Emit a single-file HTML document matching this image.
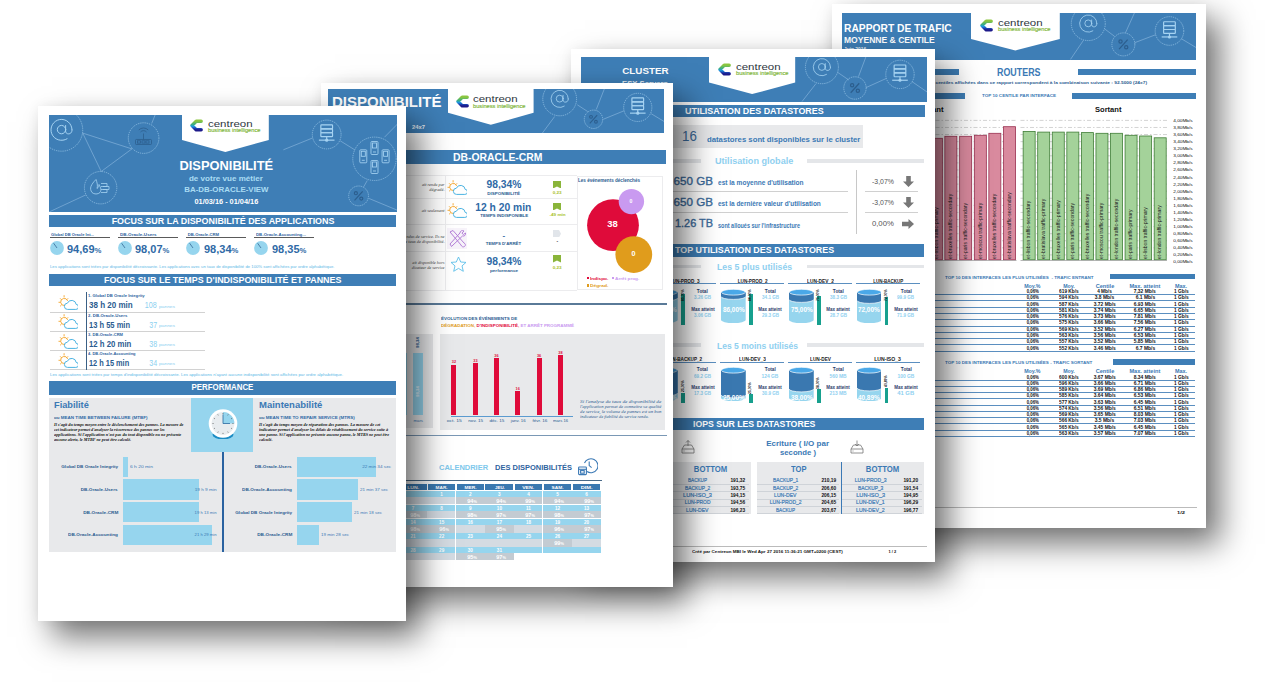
<!DOCTYPE html><html><head><meta charset="utf-8"><style>
html,body{margin:0;padding:0;background:#fff;width:1278px;height:687px;overflow:hidden;position:relative}
.pg{position:absolute;background:#fff;overflow:hidden;box-shadow:14px 16px 30px rgba(0,0,0,0.55),0 0 12px rgba(0,0,0,0.05)}
.pg div{position:absolute;box-sizing:border-box}
</style></head><body>
<div class="pg" style="left:832px;top:4px;width:374px;height:524px;z-index:6">
<div style="left:9.5px;top:9.2px;width:354.2px;height:46.4px;background:#3e7eb6"></div>
<svg style="position:absolute;left:9.5px;top:9.2px;overflow:hidden;" width="354.2" height="46.4" viewBox="841.5 13.2 354.2 46.4"><circle cx="1087.8" cy="23.8" r="17" fill="none" stroke="#9cc8ea" stroke-width="0.7" stroke-dasharray="1.3 0.9"/><g fill="none" stroke="#a6d3f2" stroke-width="0.82" stroke-linecap="round"><path d="M1096.4,23.8 A8.6,8.6 0 1,0 1092.36,31.09"/><circle cx="1087.8" cy="23.55" r="3.44"/><path d="M1091.16,20.2 V24.78 C1091.16,27.24 1093.94,27.57 1095.34,26.42 C1096.15,25.68 1096.4,24.62 1096.4,23.8"/></g><line x1="1083" y1="40.5" x2="1070" y2="59.6" stroke="#8fbbe0" stroke-width="0.6"/><line x1="1104" y1="29" x2="1114" y2="36.5" stroke="#8fbbe0" stroke-width="0.6"/><line x1="1134" y1="13" x2="1125" y2="33" stroke="#8fbbe0" stroke-width="0.6"/><circle cx="1122.9" cy="44.6" r="11.5" fill="none" stroke="#9cc8ea" stroke-width="0.7" stroke-dasharray="1.3 0.9"/><g fill="none" stroke="#2c5e8e" stroke-width="1.24"><circle cx="1120.05" cy="41.75" r="1.62"/><circle cx="1125.75" cy="47.45" r="1.62"/><line x1="1127.18" y1="39.85" x2="1118.62" y2="49.35"/></g><line x1="1134" y1="43" x2="1155" y2="35" stroke="#8fbbe0" stroke-width="0.6"/><circle cx="1169" cy="31.2" r="14.3" fill="none" stroke="#9cc8ea" stroke-width="0.7" stroke-dasharray="1.3 0.9"/><g fill="none" stroke="#a6d3f2" stroke-width="1.17"><rect x="1163.15" y="21.94" width="11.7" height="3.9" rx="0.65"/><rect x="1163.15" y="25.84" width="11.7" height="3.9" rx="0.65"/><rect x="1163.15" y="29.74" width="11.7" height="3.9" rx="0.65"/><line x1="1169" y1="33.64" x2="1169" y2="36.5"/><line x1="1161.2" y1="37.15" x2="1176.8" y2="37.15"/></g><circle cx="1169" cy="37.15" r="1.56" fill="#a6d3f2"/><line x1="1181" y1="39" x2="1196" y2="48" stroke="#8fbbe0" stroke-width="0.6"/></svg>
<div style="left:12.1px;top:17.76px;font:bold 10.8px/12.96px 'Liberation Sans', sans-serif;color:#fff;white-space:nowrap;transform:scaleX(0.95);transform-origin:0 50%;">RAPPORT DE TRAFIC</div>
<div style="left:12.1px;top:31.28px;font:bold 9px/10.8px 'Liberation Sans', sans-serif;color:#fff;white-space:nowrap;transform:scaleX(0.95);transform-origin:0 50%;">MOYENNE &amp; CENTILE</div>
<div style="left:12.1px;top:42.67px;font:bold 4.8px/5.76px 'Liberation Sans', sans-serif;color:#e8f0f7;white-space:nowrap;transform:scaleX(1.01);transform-origin:0 50%;">Juin 2016</div>
<svg style="position:absolute;left:138.1px;top:8.5px;overflow:hidden;" width="90.8" height="38.5" viewBox="970.1 12.5 90.8 38.5"><polygon points="971.1,12.5 1059.9,12.5 1059.9,38.4 1015.5,50 971.1,38.4" fill="#fff"/></svg>
<svg style="position:absolute;left:148px;top:14.5px;" width="13" height="13" viewBox="0 0 13 12.6"><defs><linearGradient id="lg4_6" x1="0" y1="0" x2="0" y2="1"><stop offset="0" stop-color="#8cc63f"/><stop offset="0.35" stop-color="#3fb07a"/><stop offset="0.6" stop-color="#1e9be0"/><stop offset="0.85" stop-color="#1c3fb0"/><stop offset="1" stop-color="#1d1a8a"/></linearGradient></defs><path d="M11.2,2 L6.2,2 L2,6.3 L6.2,10.6 L11.2,10.6" fill="none" stroke="url(#lg4_6)" stroke-width="3.4" stroke-linejoin="round" stroke-linecap="round"/></svg>
<div style="left:165.5px;top:13.29px;font:normal 9.8px/11.76px 'Liberation Sans', sans-serif;color:#2d3540;white-space:nowrap;transform:scaleX(1.17);transform-origin:0 50%;">centreon</div>
<div style="left:165.5px;top:22.33px;font:normal 5.8px/6.96px 'Liberation Sans', sans-serif;color:#7db536;white-space:nowrap;transform:scaleX(0.98);transform-origin:0 50%;-webkit-text-stroke:0.15px #7db536">business intelligence</div>
<div style="left:9.5px;top:64.5px;width:117.5px;height:6.3px;background:#3e7eb6"></div>
<div style="left:245.9px;top:64.5px;width:117.9px;height:6.3px;background:#3e7eb6"></div>
<div style="left:165.2px;top:62.74px;font:bold 10px/12px 'Liberation Sans', sans-serif;color:#3b79b5;white-space:nowrap;transform:scaleX(0.89);transform-origin:0 50%;">ROUTERS</div>
<div style="right:58.8px;top:76.06px;font:bold 4.4px/5.28px 'Liberation Sans', sans-serif;color:#2b5c90;white-space:nowrap;transform:scaleX(1.1);transform-origin:100% 50%;">Les valeurs de centiles affich&eacute;es dans ce rapport correspondent &agrave; la combinaison suivante : 92.5000 (24x7)</div>
<div style="left:9.5px;top:88.7px;width:123.4px;height:6.4px;background:#3e7eb6"></div>
<div style="left:240px;top:88.7px;width:123.8px;height:6.4px;background:#3e7eb6"></div>
<div style="left:149.8px;top:89.36px;font:bold 4.4px/5.28px 'Liberation Sans', sans-serif;color:#3b79b5;white-space:nowrap;transform:scaleX(1.04);transform-origin:0 50%;">TOP 10 CENTILE PAR INTERFACE</div>
<div style="right:262.9px;top:101.55px;font:bold 7px/8.4px 'Liberation Sans', sans-serif;color:#111;white-space:nowrap;transform:scaleX(1.1);transform-origin:100% 50%;">Entrant</div>
<div style="left:262.8px;top:101.55px;font:bold 7px/8.4px 'Liberation Sans', sans-serif;color:#111;white-space:nowrap;transform:scaleX(1.08);transform-origin:0 50%;">Sortant</div>
<div style="right:13px;top:113.89px;font:normal 4.3px/5.16px 'Liberation Sans', sans-serif;color:#111;white-space:nowrap;transform:scaleX(1.1);transform-origin:100% 50%;">4,00Mb/s</div>
<div style="right:13px;top:120.97px;font:normal 4.3px/5.16px 'Liberation Sans', sans-serif;color:#111;white-space:nowrap;transform:scaleX(1.1);transform-origin:100% 50%;">3,80Mb/s</div>
<div style="right:13px;top:128.05px;font:normal 4.3px/5.16px 'Liberation Sans', sans-serif;color:#111;white-space:nowrap;transform:scaleX(1.1);transform-origin:100% 50%;">3,60Mb/s</div>
<div style="right:13px;top:135.13px;font:normal 4.3px/5.16px 'Liberation Sans', sans-serif;color:#111;white-space:nowrap;transform:scaleX(1.1);transform-origin:100% 50%;">3,40Mb/s</div>
<div style="right:13px;top:142.21px;font:normal 4.3px/5.16px 'Liberation Sans', sans-serif;color:#111;white-space:nowrap;transform:scaleX(1.1);transform-origin:100% 50%;">3,20Mb/s</div>
<div style="right:13px;top:149.29px;font:normal 4.3px/5.16px 'Liberation Sans', sans-serif;color:#111;white-space:nowrap;transform:scaleX(1.1);transform-origin:100% 50%;">3,00Mb/s</div>
<div style="right:13px;top:156.37px;font:normal 4.3px/5.16px 'Liberation Sans', sans-serif;color:#111;white-space:nowrap;transform:scaleX(1.1);transform-origin:100% 50%;">2,80Mb/s</div>
<div style="right:13px;top:163.45px;font:normal 4.3px/5.16px 'Liberation Sans', sans-serif;color:#111;white-space:nowrap;transform:scaleX(1.1);transform-origin:100% 50%;">2,60Mb/s</div>
<div style="right:13px;top:170.53px;font:normal 4.3px/5.16px 'Liberation Sans', sans-serif;color:#111;white-space:nowrap;transform:scaleX(1.1);transform-origin:100% 50%;">2,40Mb/s</div>
<div style="right:13px;top:177.61px;font:normal 4.3px/5.16px 'Liberation Sans', sans-serif;color:#111;white-space:nowrap;transform:scaleX(1.1);transform-origin:100% 50%;">2,20Mb/s</div>
<div style="right:13px;top:184.69px;font:normal 4.3px/5.16px 'Liberation Sans', sans-serif;color:#111;white-space:nowrap;transform:scaleX(1.1);transform-origin:100% 50%;">2,00Mb/s</div>
<div style="right:13px;top:191.77px;font:normal 4.3px/5.16px 'Liberation Sans', sans-serif;color:#111;white-space:nowrap;transform:scaleX(1.1);transform-origin:100% 50%;">1,80Mb/s</div>
<div style="right:13px;top:198.85px;font:normal 4.3px/5.16px 'Liberation Sans', sans-serif;color:#111;white-space:nowrap;transform:scaleX(1.1);transform-origin:100% 50%;">1,60Mb/s</div>
<div style="right:13px;top:205.93px;font:normal 4.3px/5.16px 'Liberation Sans', sans-serif;color:#111;white-space:nowrap;transform:scaleX(1.1);transform-origin:100% 50%;">1,40Mb/s</div>
<div style="right:13px;top:213.01px;font:normal 4.3px/5.16px 'Liberation Sans', sans-serif;color:#111;white-space:nowrap;transform:scaleX(1.1);transform-origin:100% 50%;">1,20Mb/s</div>
<div style="right:13px;top:220.09px;font:normal 4.3px/5.16px 'Liberation Sans', sans-serif;color:#111;white-space:nowrap;transform:scaleX(1.1);transform-origin:100% 50%;">1,00Mb/s</div>
<div style="right:13px;top:227.17px;font:normal 4.3px/5.16px 'Liberation Sans', sans-serif;color:#111;white-space:nowrap;transform:scaleX(1.1);transform-origin:100% 50%;">0,80Mb/s</div>
<div style="right:13px;top:234.25px;font:normal 4.3px/5.16px 'Liberation Sans', sans-serif;color:#111;white-space:nowrap;transform:scaleX(1.1);transform-origin:100% 50%;">0,60Mb/s</div>
<div style="right:13px;top:241.33px;font:normal 4.3px/5.16px 'Liberation Sans', sans-serif;color:#111;white-space:nowrap;transform:scaleX(1.1);transform-origin:100% 50%;">0,40Mb/s</div>
<div style="right:13px;top:248.41px;font:normal 4.3px/5.16px 'Liberation Sans', sans-serif;color:#111;white-space:nowrap;transform:scaleX(1.1);transform-origin:100% 50%;">0,20Mb/s</div>
<div style="right:13px;top:255.49px;font:normal 4.3px/5.16px 'Liberation Sans', sans-serif;color:#111;white-space:nowrap;transform:scaleX(1.1);transform-origin:100% 50%;">0,00Mb/s</div>
<svg style="position:absolute;left:10px;top:111px;overflow:hidden;" width="328" height="151" viewBox="842 115 328 151"><line x1="850" y1="120.4" x2="1016.5" y2="120.4" stroke="#b5b5b5" stroke-width="0.6" stroke-dasharray="4 2 1.5 2"/><line x1="1020.5" y1="120.4" x2="1167" y2="120.4" stroke="#b5b5b5" stroke-width="0.6" stroke-dasharray="4 2 1.5 2"/><line x1="850" y1="127.48" x2="1016.5" y2="127.48" stroke="#b5b5b5" stroke-width="0.6" stroke-dasharray="4 2 1.5 2"/><line x1="1020.5" y1="127.48" x2="1167" y2="127.48" stroke="#b5b5b5" stroke-width="0.6" stroke-dasharray="4 2 1.5 2"/><line x1="850" y1="134.56" x2="1016.5" y2="134.56" stroke="#b5b5b5" stroke-width="0.6" stroke-dasharray="4 2 1.5 2"/><line x1="1020.5" y1="134.56" x2="1167" y2="134.56" stroke="#b5b5b5" stroke-width="0.6" stroke-dasharray="4 2 1.5 2"/><line x1="850" y1="141.64" x2="1016.5" y2="141.64" stroke="#b5b5b5" stroke-width="0.6" stroke-dasharray="4 2 1.5 2"/><line x1="1020.5" y1="141.64" x2="1167" y2="141.64" stroke="#b5b5b5" stroke-width="0.6" stroke-dasharray="4 2 1.5 2"/><line x1="850" y1="148.72" x2="1016.5" y2="148.72" stroke="#b5b5b5" stroke-width="0.6" stroke-dasharray="4 2 1.5 2"/><line x1="1020.5" y1="148.72" x2="1167" y2="148.72" stroke="#b5b5b5" stroke-width="0.6" stroke-dasharray="4 2 1.5 2"/><line x1="850" y1="155.8" x2="1016.5" y2="155.8" stroke="#b5b5b5" stroke-width="0.6" stroke-dasharray="4 2 1.5 2"/><line x1="1020.5" y1="155.8" x2="1167" y2="155.8" stroke="#b5b5b5" stroke-width="0.6" stroke-dasharray="4 2 1.5 2"/><line x1="850" y1="162.88" x2="1016.5" y2="162.88" stroke="#b5b5b5" stroke-width="0.6" stroke-dasharray="4 2 1.5 2"/><line x1="1020.5" y1="162.88" x2="1167" y2="162.88" stroke="#b5b5b5" stroke-width="0.6" stroke-dasharray="4 2 1.5 2"/><line x1="850" y1="169.96" x2="1016.5" y2="169.96" stroke="#b5b5b5" stroke-width="0.6" stroke-dasharray="4 2 1.5 2"/><line x1="1020.5" y1="169.96" x2="1167" y2="169.96" stroke="#b5b5b5" stroke-width="0.6" stroke-dasharray="4 2 1.5 2"/><line x1="850" y1="177.04" x2="1016.5" y2="177.04" stroke="#b5b5b5" stroke-width="0.6" stroke-dasharray="4 2 1.5 2"/><line x1="1020.5" y1="177.04" x2="1167" y2="177.04" stroke="#b5b5b5" stroke-width="0.6" stroke-dasharray="4 2 1.5 2"/><line x1="850" y1="184.12" x2="1016.5" y2="184.12" stroke="#b5b5b5" stroke-width="0.6" stroke-dasharray="4 2 1.5 2"/><line x1="1020.5" y1="184.12" x2="1167" y2="184.12" stroke="#b5b5b5" stroke-width="0.6" stroke-dasharray="4 2 1.5 2"/><line x1="850" y1="191.2" x2="1016.5" y2="191.2" stroke="#b5b5b5" stroke-width="0.6" stroke-dasharray="4 2 1.5 2"/><line x1="1020.5" y1="191.2" x2="1167" y2="191.2" stroke="#b5b5b5" stroke-width="0.6" stroke-dasharray="4 2 1.5 2"/><line x1="850" y1="198.28" x2="1016.5" y2="198.28" stroke="#b5b5b5" stroke-width="0.6" stroke-dasharray="4 2 1.5 2"/><line x1="1020.5" y1="198.28" x2="1167" y2="198.28" stroke="#b5b5b5" stroke-width="0.6" stroke-dasharray="4 2 1.5 2"/><line x1="850" y1="205.36" x2="1016.5" y2="205.36" stroke="#b5b5b5" stroke-width="0.6" stroke-dasharray="4 2 1.5 2"/><line x1="1020.5" y1="205.36" x2="1167" y2="205.36" stroke="#b5b5b5" stroke-width="0.6" stroke-dasharray="4 2 1.5 2"/><line x1="850" y1="212.44" x2="1016.5" y2="212.44" stroke="#b5b5b5" stroke-width="0.6" stroke-dasharray="4 2 1.5 2"/><line x1="1020.5" y1="212.44" x2="1167" y2="212.44" stroke="#b5b5b5" stroke-width="0.6" stroke-dasharray="4 2 1.5 2"/><line x1="850" y1="219.52" x2="1016.5" y2="219.52" stroke="#b5b5b5" stroke-width="0.6" stroke-dasharray="4 2 1.5 2"/><line x1="1020.5" y1="219.52" x2="1167" y2="219.52" stroke="#b5b5b5" stroke-width="0.6" stroke-dasharray="4 2 1.5 2"/><line x1="850" y1="226.6" x2="1016.5" y2="226.6" stroke="#b5b5b5" stroke-width="0.6" stroke-dasharray="4 2 1.5 2"/><line x1="1020.5" y1="226.6" x2="1167" y2="226.6" stroke="#b5b5b5" stroke-width="0.6" stroke-dasharray="4 2 1.5 2"/><line x1="850" y1="233.68" x2="1016.5" y2="233.68" stroke="#b5b5b5" stroke-width="0.6" stroke-dasharray="4 2 1.5 2"/><line x1="1020.5" y1="233.68" x2="1167" y2="233.68" stroke="#b5b5b5" stroke-width="0.6" stroke-dasharray="4 2 1.5 2"/><line x1="850" y1="240.76" x2="1016.5" y2="240.76" stroke="#b5b5b5" stroke-width="0.6" stroke-dasharray="4 2 1.5 2"/><line x1="1020.5" y1="240.76" x2="1167" y2="240.76" stroke="#b5b5b5" stroke-width="0.6" stroke-dasharray="4 2 1.5 2"/><line x1="850" y1="247.84" x2="1016.5" y2="247.84" stroke="#b5b5b5" stroke-width="0.6" stroke-dasharray="4 2 1.5 2"/><line x1="1020.5" y1="247.84" x2="1167" y2="247.84" stroke="#b5b5b5" stroke-width="0.6" stroke-dasharray="4 2 1.5 2"/><line x1="850" y1="254.92" x2="1016.5" y2="254.92" stroke="#b5b5b5" stroke-width="0.6" stroke-dasharray="4 2 1.5 2"/><line x1="1020.5" y1="254.92" x2="1167" y2="254.92" stroke="#b5b5b5" stroke-width="0.6" stroke-dasharray="4 2 1.5 2"/><rect x="915.85" y="140" width="12" height="119.8" fill="#d98a9e" stroke="#9a3050" stroke-width="0.8"/><rect x="930.35" y="138.3" width="12" height="121.5" fill="#d98a9e" stroke="#9a3050" stroke-width="0.8"/><rect x="944.85" y="136.3" width="12" height="123.5" fill="#d98a9e" stroke="#9a3050" stroke-width="0.8"/><rect x="959.65" y="136.3" width="12" height="123.5" fill="#d98a9e" stroke="#9a3050" stroke-width="0.8"/><rect x="974.35" y="135.3" width="12" height="124.5" fill="#d98a9e" stroke="#9a3050" stroke-width="0.8"/><rect x="988.85" y="133.3" width="12" height="126.5" fill="#d98a9e" stroke="#9a3050" stroke-width="0.8"/><rect x="1003.55" y="126.7" width="12" height="133.1" fill="#d98a9e" stroke="#9a3050" stroke-width="0.8"/><rect x="1023.15" y="131.4" width="12" height="128.4" fill="#a4d29a" stroke="#3f7d36" stroke-width="0.8"/><rect x="1037.71" y="132.1" width="12" height="127.7" fill="#a4d29a" stroke="#3f7d36" stroke-width="0.8"/><rect x="1052.27" y="132.1" width="12" height="127.7" fill="#a4d29a" stroke="#3f7d36" stroke-width="0.8"/><rect x="1066.83" y="132.1" width="12" height="127.7" fill="#a4d29a" stroke="#3f7d36" stroke-width="0.8"/><rect x="1081.39" y="132.6" width="12" height="127.2" fill="#a4d29a" stroke="#3f7d36" stroke-width="0.8"/><rect x="1095.95" y="133.3" width="12" height="126.5" fill="#a4d29a" stroke="#3f7d36" stroke-width="0.8"/><rect x="1110.51" y="133.3" width="12" height="126.5" fill="#a4d29a" stroke="#3f7d36" stroke-width="0.8"/><rect x="1125.07" y="135.3" width="12" height="124.5" fill="#a4d29a" stroke="#3f7d36" stroke-width="0.8"/><rect x="1139.63" y="136" width="12" height="123.8" fill="#a4d29a" stroke="#3f7d36" stroke-width="0.8"/><rect x="1154.19" y="137.8" width="12" height="122" fill="#a4d29a" stroke="#3f7d36" stroke-width="0.8"/><line x1="850" y1="260.5" x2="1016.5" y2="260.5" stroke="#999" stroke-width="0.7"/><line x1="1020.5" y1="260.5" x2="1167" y2="260.5" stroke="#999" stroke-width="0.7"/></svg>
<div style="left:87.1px;top:254.5px;width:0;height:0"><div style="position:absolute;left:0;top:0;transform:rotate(-90deg);transform-origin:0 0;font:normal 5.1px/5.6px 'Liberation Sans';color:#222;white-space:nowrap">et-london traffic-secondary</div></div>
<div style="left:101.6px;top:254.5px;width:0;height:0"><div style="position:absolute;left:0;top:0;transform:rotate(-90deg);transform-origin:0 0;font:normal 5.1px/5.6px 'Liberation Sans';color:#222;white-space:nowrap">et-lisbon traffic-primary</div></div>
<div style="left:116.1px;top:254.5px;width:0;height:0"><div style="position:absolute;left:0;top:0;transform:rotate(-90deg);transform-origin:0 0;font:normal 5.1px/5.6px 'Liberation Sans';color:#222;white-space:nowrap">et-bruxelles traffic-secondary</div></div>
<div style="left:130.9px;top:254.5px;width:0;height:0"><div style="position:absolute;left:0;top:0;transform:rotate(-90deg);transform-origin:0 0;font:normal 5.1px/5.6px 'Liberation Sans';color:#222;white-space:nowrap">et-paris traffic-secondary</div></div>
<div style="left:145.6px;top:254.5px;width:0;height:0"><div style="position:absolute;left:0;top:0;transform:rotate(-90deg);transform-origin:0 0;font:normal 5.1px/5.6px 'Liberation Sans';color:#222;white-space:nowrap">et-moscou traffic-primary</div></div>
<div style="left:160.1px;top:254.5px;width:0;height:0"><div style="position:absolute;left:0;top:0;transform:rotate(-90deg);transform-origin:0 0;font:normal 5.1px/5.6px 'Liberation Sans';color:#222;white-space:nowrap">et-bruxelles traffic-secondary</div></div>
<div style="left:174.8px;top:254.5px;width:0;height:0"><div style="position:absolute;left:0;top:0;transform:rotate(-90deg);transform-origin:0 0;font:normal 5.1px/5.6px 'Liberation Sans';color:#222;white-space:nowrap">et-bratislava traffic-secondary</div></div>
<div style="left:194.4px;top:254.5px;width:0;height:0"><div style="position:absolute;left:0;top:0;transform:rotate(-90deg);transform-origin:0 0;font:normal 5.1px/5.6px 'Liberation Sans';color:#222;white-space:nowrap">et-lisbon traffic-secondary</div></div>
<div style="left:208.96px;top:254.5px;width:0;height:0"><div style="position:absolute;left:0;top:0;transform:rotate(-90deg);transform-origin:0 0;font:normal 5.1px/5.6px 'Liberation Sans';color:#222;white-space:nowrap">et-bratislava traffic-primary</div></div>
<div style="left:223.52px;top:254.5px;width:0;height:0"><div style="position:absolute;left:0;top:0;transform:rotate(-90deg);transform-origin:0 0;font:normal 5.1px/5.6px 'Liberation Sans';color:#222;white-space:nowrap">et-bruxelles traffic-primary</div></div>
<div style="left:238.08px;top:254.5px;width:0;height:0"><div style="position:absolute;left:0;top:0;transform:rotate(-90deg);transform-origin:0 0;font:normal 5.1px/5.6px 'Liberation Sans';color:#222;white-space:nowrap">et-paris traffic-secondary</div></div>
<div style="left:252.64px;top:254.5px;width:0;height:0"><div style="position:absolute;left:0;top:0;transform:rotate(-90deg);transform-origin:0 0;font:normal 5.1px/5.6px 'Liberation Sans';color:#222;white-space:nowrap">et-bruxelles traffic-secondary</div></div>
<div style="left:267.2px;top:254.5px;width:0;height:0"><div style="position:absolute;left:0;top:0;transform:rotate(-90deg);transform-origin:0 0;font:normal 5.1px/5.6px 'Liberation Sans';color:#222;white-space:nowrap">et-moscou traffic-primary</div></div>
<div style="left:281.76px;top:254.5px;width:0;height:0"><div style="position:absolute;left:0;top:0;transform:rotate(-90deg);transform-origin:0 0;font:normal 5.1px/5.6px 'Liberation Sans';color:#222;white-space:nowrap">et-london traffic-secondary</div></div>
<div style="left:296.32px;top:254.5px;width:0;height:0"><div style="position:absolute;left:0;top:0;transform:rotate(-90deg);transform-origin:0 0;font:normal 5.1px/5.6px 'Liberation Sans';color:#222;white-space:nowrap">et-paris traffic-primary</div></div>
<div style="left:310.88px;top:254.5px;width:0;height:0"><div style="position:absolute;left:0;top:0;transform:rotate(-90deg);transform-origin:0 0;font:normal 5.1px/5.6px 'Liberation Sans';color:#222;white-space:nowrap">et-lisbon traffic-primary</div></div>
<div style="left:325.44px;top:254.5px;width:0;height:0"><div style="position:absolute;left:0;top:0;transform:rotate(-90deg);transform-origin:0 0;font:normal 5.1px/5.6px 'Liberation Sans';color:#222;white-space:nowrap">et-london traffic-primary</div></div>
<div style="left:112.9px;top:270.56px;font:bold 4.4px/5.28px 'Liberation Sans', sans-serif;color:#3b79b5;white-space:nowrap;transform:scaleX(1.03);transform-origin:0 50%;">TOP 10 DES INTERFACES LES PLUS UTILIS&Eacute;ES&nbsp; - TRAFIC ENTRANT</div>
<div style="left:277.7px;top:269.6px;width:85px;height:5.7px;background:#3e7eb6"></div>
<div style="left:200.4px;width:0;display:flex;justify-content:center;top:278.63px;font:bold 5.4px/6.48px 'Liberation Sans', sans-serif;color:#3b79b5;white-space:nowrap;"><span style="display:inline-block;transform:scaleX(0.98);transform-origin:50% 50%;">Moy.%</span></div>
<div style="left:236.8px;width:0;display:flex;justify-content:center;top:278.63px;font:bold 5.4px/6.48px 'Liberation Sans', sans-serif;color:#3b79b5;white-space:nowrap;"><span style="display:inline-block;transform:scaleX(0.97);transform-origin:50% 50%;">Moy.</span></div>
<div style="left:272.7px;width:0;display:flex;justify-content:center;top:278.63px;font:bold 5.4px/6.48px 'Liberation Sans', sans-serif;color:#3b79b5;white-space:nowrap;"><span style="display:inline-block;transform:scaleX(1.03);transform-origin:50% 50%;">Centile</span></div>
<div style="left:313.2px;width:0;display:flex;justify-content:center;top:278.63px;font:bold 5.4px/6.48px 'Liberation Sans', sans-serif;color:#3b79b5;white-space:nowrap;"><span style="display:inline-block;transform:scaleX(1.04);transform-origin:50% 50%;">Max. atteint</span></div>
<div style="left:349.4px;width:0;display:flex;justify-content:center;top:278.63px;font:bold 5.4px/6.48px 'Liberation Sans', sans-serif;color:#3b79b5;white-space:nowrap;"><span style="display:inline-block;transform:scaleX(1.01);transform-origin:50% 50%;">Max.</span></div>
<div style="left:200.5px;width:0;display:flex;justify-content:center;top:285.17px;font:bold 4.8px/5.76px 'Liberation Sans', sans-serif;color:#111;white-space:nowrap;"><span style="display:inline-block;transform:scaleX(0.9);transform-origin:50% 50%;">0,06%</span></div>
<div style="left:236.5px;width:0;display:flex;justify-content:center;top:285.17px;font:bold 4.8px/5.76px 'Liberation Sans', sans-serif;color:#111;white-space:nowrap;"><span style="display:inline-block;transform:scaleX(0.99);transform-origin:50% 50%;">619 Kb/s</span></div>
<div style="left:272.6px;width:0;display:flex;justify-content:center;top:285.17px;font:bold 4.8px/5.76px 'Liberation Sans', sans-serif;color:#111;white-space:nowrap;"><span style="display:inline-block;transform:scaleX(0.98);transform-origin:50% 50%;">4 Mb/s</span></div>
<div style="left:313.2px;width:0;display:flex;justify-content:center;top:285.17px;font:bold 4.8px/5.76px 'Liberation Sans', sans-serif;color:#111;white-space:nowrap;"><span style="display:inline-block;transform:scaleX(1.02);transform-origin:50% 50%;">7,32 Mb/s</span></div>
<div style="left:349.3px;width:0;display:flex;justify-content:center;top:285.17px;font:bold 4.8px/5.76px 'Liberation Sans', sans-serif;color:#111;white-space:nowrap;"><span style="display:inline-block;transform:scaleX(1);transform-origin:50% 50%;">1 Gb/s</span></div>
<div style="left:9.5px;top:290.2px;width:353.2px;height:0.6px;background:#5b8fc0"></div>
<div style="left:200.5px;width:0;display:flex;justify-content:center;top:291.43px;font:bold 4.8px/5.76px 'Liberation Sans', sans-serif;color:#111;white-space:nowrap;"><span style="display:inline-block;transform:scaleX(0.9);transform-origin:50% 50%;">0,06%</span></div>
<div style="left:236.5px;width:0;display:flex;justify-content:center;top:291.43px;font:bold 4.8px/5.76px 'Liberation Sans', sans-serif;color:#111;white-space:nowrap;"><span style="display:inline-block;transform:scaleX(0.99);transform-origin:50% 50%;">594 Kb/s</span></div>
<div style="left:272.6px;width:0;display:flex;justify-content:center;top:291.43px;font:bold 4.8px/5.76px 'Liberation Sans', sans-serif;color:#111;white-space:nowrap;"><span style="display:inline-block;transform:scaleX(1.03);transform-origin:50% 50%;">3.8 Mb/s</span></div>
<div style="left:313.2px;width:0;display:flex;justify-content:center;top:291.43px;font:bold 4.8px/5.76px 'Liberation Sans', sans-serif;color:#111;white-space:nowrap;"><span style="display:inline-block;transform:scaleX(1.03);transform-origin:50% 50%;">6.1 Mb/s</span></div>
<div style="left:349.3px;width:0;display:flex;justify-content:center;top:291.43px;font:bold 4.8px/5.76px 'Liberation Sans', sans-serif;color:#111;white-space:nowrap;"><span style="display:inline-block;transform:scaleX(1);transform-origin:50% 50%;">1 Gb/s</span></div>
<div style="left:9.5px;top:296.46px;width:353.2px;height:0.6px;background:#5b8fc0"></div>
<div style="left:200.5px;width:0;display:flex;justify-content:center;top:297.69px;font:bold 4.8px/5.76px 'Liberation Sans', sans-serif;color:#111;white-space:nowrap;"><span style="display:inline-block;transform:scaleX(0.9);transform-origin:50% 50%;">0,06%</span></div>
<div style="left:236.5px;width:0;display:flex;justify-content:center;top:297.69px;font:bold 4.8px/5.76px 'Liberation Sans', sans-serif;color:#111;white-space:nowrap;"><span style="display:inline-block;transform:scaleX(0.99);transform-origin:50% 50%;">587 Kb/s</span></div>
<div style="left:272.6px;width:0;display:flex;justify-content:center;top:297.69px;font:bold 4.8px/5.76px 'Liberation Sans', sans-serif;color:#111;white-space:nowrap;"><span style="display:inline-block;transform:scaleX(1.02);transform-origin:50% 50%;">3.72 Mb/s</span></div>
<div style="left:313.2px;width:0;display:flex;justify-content:center;top:297.69px;font:bold 4.8px/5.76px 'Liberation Sans', sans-serif;color:#111;white-space:nowrap;"><span style="display:inline-block;transform:scaleX(1.02);transform-origin:50% 50%;">6.93 Mb/s</span></div>
<div style="left:349.3px;width:0;display:flex;justify-content:center;top:297.69px;font:bold 4.8px/5.76px 'Liberation Sans', sans-serif;color:#111;white-space:nowrap;"><span style="display:inline-block;transform:scaleX(1);transform-origin:50% 50%;">1 Gb/s</span></div>
<div style="left:9.5px;top:302.72px;width:353.2px;height:0.6px;background:#5b8fc0"></div>
<div style="left:200.5px;width:0;display:flex;justify-content:center;top:303.95px;font:bold 4.8px/5.76px 'Liberation Sans', sans-serif;color:#111;white-space:nowrap;"><span style="display:inline-block;transform:scaleX(0.9);transform-origin:50% 50%;">0,06%</span></div>
<div style="left:236.5px;width:0;display:flex;justify-content:center;top:303.95px;font:bold 4.8px/5.76px 'Liberation Sans', sans-serif;color:#111;white-space:nowrap;"><span style="display:inline-block;transform:scaleX(0.99);transform-origin:50% 50%;">581 Kb/s</span></div>
<div style="left:272.6px;width:0;display:flex;justify-content:center;top:303.95px;font:bold 4.8px/5.76px 'Liberation Sans', sans-serif;color:#111;white-space:nowrap;"><span style="display:inline-block;transform:scaleX(1.02);transform-origin:50% 50%;">3.74 Mb/s</span></div>
<div style="left:313.2px;width:0;display:flex;justify-content:center;top:303.95px;font:bold 4.8px/5.76px 'Liberation Sans', sans-serif;color:#111;white-space:nowrap;"><span style="display:inline-block;transform:scaleX(1.02);transform-origin:50% 50%;">6.65 Mb/s</span></div>
<div style="left:349.3px;width:0;display:flex;justify-content:center;top:303.95px;font:bold 4.8px/5.76px 'Liberation Sans', sans-serif;color:#111;white-space:nowrap;"><span style="display:inline-block;transform:scaleX(1);transform-origin:50% 50%;">1 Gb/s</span></div>
<div style="left:9.5px;top:308.98px;width:353.2px;height:0.6px;background:#5b8fc0"></div>
<div style="left:200.5px;width:0;display:flex;justify-content:center;top:310.21px;font:bold 4.8px/5.76px 'Liberation Sans', sans-serif;color:#111;white-space:nowrap;"><span style="display:inline-block;transform:scaleX(0.9);transform-origin:50% 50%;">0,06%</span></div>
<div style="left:236.5px;width:0;display:flex;justify-content:center;top:310.21px;font:bold 4.8px/5.76px 'Liberation Sans', sans-serif;color:#111;white-space:nowrap;"><span style="display:inline-block;transform:scaleX(0.99);transform-origin:50% 50%;">576 Kb/s</span></div>
<div style="left:272.6px;width:0;display:flex;justify-content:center;top:310.21px;font:bold 4.8px/5.76px 'Liberation Sans', sans-serif;color:#111;white-space:nowrap;"><span style="display:inline-block;transform:scaleX(1.02);transform-origin:50% 50%;">3.73 Mb/s</span></div>
<div style="left:313.2px;width:0;display:flex;justify-content:center;top:310.21px;font:bold 4.8px/5.76px 'Liberation Sans', sans-serif;color:#111;white-space:nowrap;"><span style="display:inline-block;transform:scaleX(1.02);transform-origin:50% 50%;">7.81 Mb/s</span></div>
<div style="left:349.3px;width:0;display:flex;justify-content:center;top:310.21px;font:bold 4.8px/5.76px 'Liberation Sans', sans-serif;color:#111;white-space:nowrap;"><span style="display:inline-block;transform:scaleX(1);transform-origin:50% 50%;">1 Gb/s</span></div>
<div style="left:9.5px;top:315.24px;width:353.2px;height:0.6px;background:#5b8fc0"></div>
<div style="left:200.5px;width:0;display:flex;justify-content:center;top:316.47px;font:bold 4.8px/5.76px 'Liberation Sans', sans-serif;color:#111;white-space:nowrap;"><span style="display:inline-block;transform:scaleX(0.9);transform-origin:50% 50%;">0,06%</span></div>
<div style="left:236.5px;width:0;display:flex;justify-content:center;top:316.47px;font:bold 4.8px/5.76px 'Liberation Sans', sans-serif;color:#111;white-space:nowrap;"><span style="display:inline-block;transform:scaleX(0.99);transform-origin:50% 50%;">575 Kb/s</span></div>
<div style="left:272.6px;width:0;display:flex;justify-content:center;top:316.47px;font:bold 4.8px/5.76px 'Liberation Sans', sans-serif;color:#111;white-space:nowrap;"><span style="display:inline-block;transform:scaleX(1.02);transform-origin:50% 50%;">3.66 Mb/s</span></div>
<div style="left:313.2px;width:0;display:flex;justify-content:center;top:316.47px;font:bold 4.8px/5.76px 'Liberation Sans', sans-serif;color:#111;white-space:nowrap;"><span style="display:inline-block;transform:scaleX(1.02);transform-origin:50% 50%;">7.56 Mb/s</span></div>
<div style="left:349.3px;width:0;display:flex;justify-content:center;top:316.47px;font:bold 4.8px/5.76px 'Liberation Sans', sans-serif;color:#111;white-space:nowrap;"><span style="display:inline-block;transform:scaleX(1);transform-origin:50% 50%;">1 Gb/s</span></div>
<div style="left:9.5px;top:321.5px;width:353.2px;height:0.6px;background:#5b8fc0"></div>
<div style="left:200.5px;width:0;display:flex;justify-content:center;top:322.73px;font:bold 4.8px/5.76px 'Liberation Sans', sans-serif;color:#111;white-space:nowrap;"><span style="display:inline-block;transform:scaleX(0.9);transform-origin:50% 50%;">0,06%</span></div>
<div style="left:236.5px;width:0;display:flex;justify-content:center;top:322.73px;font:bold 4.8px/5.76px 'Liberation Sans', sans-serif;color:#111;white-space:nowrap;"><span style="display:inline-block;transform:scaleX(0.99);transform-origin:50% 50%;">569 Kb/s</span></div>
<div style="left:272.6px;width:0;display:flex;justify-content:center;top:322.73px;font:bold 4.8px/5.76px 'Liberation Sans', sans-serif;color:#111;white-space:nowrap;"><span style="display:inline-block;transform:scaleX(1.02);transform-origin:50% 50%;">3.52 Mb/s</span></div>
<div style="left:313.2px;width:0;display:flex;justify-content:center;top:322.73px;font:bold 4.8px/5.76px 'Liberation Sans', sans-serif;color:#111;white-space:nowrap;"><span style="display:inline-block;transform:scaleX(1.02);transform-origin:50% 50%;">6.27 Mb/s</span></div>
<div style="left:349.3px;width:0;display:flex;justify-content:center;top:322.73px;font:bold 4.8px/5.76px 'Liberation Sans', sans-serif;color:#111;white-space:nowrap;"><span style="display:inline-block;transform:scaleX(1);transform-origin:50% 50%;">1 Gb/s</span></div>
<div style="left:9.5px;top:327.76px;width:353.2px;height:0.6px;background:#5b8fc0"></div>
<div style="left:200.5px;width:0;display:flex;justify-content:center;top:328.99px;font:bold 4.8px/5.76px 'Liberation Sans', sans-serif;color:#111;white-space:nowrap;"><span style="display:inline-block;transform:scaleX(0.9);transform-origin:50% 50%;">0,06%</span></div>
<div style="left:236.5px;width:0;display:flex;justify-content:center;top:328.99px;font:bold 4.8px/5.76px 'Liberation Sans', sans-serif;color:#111;white-space:nowrap;"><span style="display:inline-block;transform:scaleX(0.99);transform-origin:50% 50%;">563 Kb/s</span></div>
<div style="left:272.6px;width:0;display:flex;justify-content:center;top:328.99px;font:bold 4.8px/5.76px 'Liberation Sans', sans-serif;color:#111;white-space:nowrap;"><span style="display:inline-block;transform:scaleX(1.02);transform-origin:50% 50%;">3.56 Mb/s</span></div>
<div style="left:313.2px;width:0;display:flex;justify-content:center;top:328.99px;font:bold 4.8px/5.76px 'Liberation Sans', sans-serif;color:#111;white-space:nowrap;"><span style="display:inline-block;transform:scaleX(1.02);transform-origin:50% 50%;">6.53 Mb/s</span></div>
<div style="left:349.3px;width:0;display:flex;justify-content:center;top:328.99px;font:bold 4.8px/5.76px 'Liberation Sans', sans-serif;color:#111;white-space:nowrap;"><span style="display:inline-block;transform:scaleX(1);transform-origin:50% 50%;">1 Gb/s</span></div>
<div style="left:9.5px;top:334.02px;width:353.2px;height:0.6px;background:#5b8fc0"></div>
<div style="left:200.5px;width:0;display:flex;justify-content:center;top:335.25px;font:bold 4.8px/5.76px 'Liberation Sans', sans-serif;color:#111;white-space:nowrap;"><span style="display:inline-block;transform:scaleX(0.9);transform-origin:50% 50%;">0,06%</span></div>
<div style="left:236.5px;width:0;display:flex;justify-content:center;top:335.25px;font:bold 4.8px/5.76px 'Liberation Sans', sans-serif;color:#111;white-space:nowrap;"><span style="display:inline-block;transform:scaleX(0.99);transform-origin:50% 50%;">557 Kb/s</span></div>
<div style="left:272.6px;width:0;display:flex;justify-content:center;top:335.25px;font:bold 4.8px/5.76px 'Liberation Sans', sans-serif;color:#111;white-space:nowrap;"><span style="display:inline-block;transform:scaleX(1.02);transform-origin:50% 50%;">3.52 Mb/s</span></div>
<div style="left:313.2px;width:0;display:flex;justify-content:center;top:335.25px;font:bold 4.8px/5.76px 'Liberation Sans', sans-serif;color:#111;white-space:nowrap;"><span style="display:inline-block;transform:scaleX(1.02);transform-origin:50% 50%;">5.85 Mb/s</span></div>
<div style="left:349.3px;width:0;display:flex;justify-content:center;top:335.25px;font:bold 4.8px/5.76px 'Liberation Sans', sans-serif;color:#111;white-space:nowrap;"><span style="display:inline-block;transform:scaleX(1);transform-origin:50% 50%;">1 Gb/s</span></div>
<div style="left:9.5px;top:340.28px;width:353.2px;height:0.6px;background:#5b8fc0"></div>
<div style="left:200.5px;width:0;display:flex;justify-content:center;top:341.51px;font:bold 4.8px/5.76px 'Liberation Sans', sans-serif;color:#111;white-space:nowrap;"><span style="display:inline-block;transform:scaleX(0.9);transform-origin:50% 50%;">0,06%</span></div>
<div style="left:236.5px;width:0;display:flex;justify-content:center;top:341.51px;font:bold 4.8px/5.76px 'Liberation Sans', sans-serif;color:#111;white-space:nowrap;"><span style="display:inline-block;transform:scaleX(0.99);transform-origin:50% 50%;">552 Kb/s</span></div>
<div style="left:272.6px;width:0;display:flex;justify-content:center;top:341.51px;font:bold 4.8px/5.76px 'Liberation Sans', sans-serif;color:#111;white-space:nowrap;"><span style="display:inline-block;transform:scaleX(1.02);transform-origin:50% 50%;">3.46 Mb/s</span></div>
<div style="left:313.2px;width:0;display:flex;justify-content:center;top:341.51px;font:bold 4.8px/5.76px 'Liberation Sans', sans-serif;color:#111;white-space:nowrap;"><span style="display:inline-block;transform:scaleX(1.03);transform-origin:50% 50%;">6.7 Mb/s</span></div>
<div style="left:349.3px;width:0;display:flex;justify-content:center;top:341.51px;font:bold 4.8px/5.76px 'Liberation Sans', sans-serif;color:#111;white-space:nowrap;"><span style="display:inline-block;transform:scaleX(1);transform-origin:50% 50%;">1 Gb/s</span></div>
<div style="left:9.5px;top:346.54px;width:353.2px;height:0.6px;background:#5b8fc0"></div>
<div style="left:112.9px;top:355.96px;font:bold 4.4px/5.28px 'Liberation Sans', sans-serif;color:#3b79b5;white-space:nowrap;transform:scaleX(1.03);transform-origin:0 50%;">TOP 10 DES INTERFACES LES PLUS UTILIS&Eacute;ES - TRAFIC SORTANT</div>
<div style="left:281px;top:355px;width:81.7px;height:5.7px;background:#3e7eb6"></div>
<div style="left:200.4px;width:0;display:flex;justify-content:center;top:364.03px;font:bold 5.4px/6.48px 'Liberation Sans', sans-serif;color:#3b79b5;white-space:nowrap;"><span style="display:inline-block;transform:scaleX(0.98);transform-origin:50% 50%;">Moy.%</span></div>
<div style="left:236.8px;width:0;display:flex;justify-content:center;top:364.03px;font:bold 5.4px/6.48px 'Liberation Sans', sans-serif;color:#3b79b5;white-space:nowrap;"><span style="display:inline-block;transform:scaleX(0.97);transform-origin:50% 50%;">Moy.</span></div>
<div style="left:272.7px;width:0;display:flex;justify-content:center;top:364.03px;font:bold 5.4px/6.48px 'Liberation Sans', sans-serif;color:#3b79b5;white-space:nowrap;"><span style="display:inline-block;transform:scaleX(1.03);transform-origin:50% 50%;">Centile</span></div>
<div style="left:313.2px;width:0;display:flex;justify-content:center;top:364.03px;font:bold 5.4px/6.48px 'Liberation Sans', sans-serif;color:#3b79b5;white-space:nowrap;"><span style="display:inline-block;transform:scaleX(1.04);transform-origin:50% 50%;">Max. atteint</span></div>
<div style="left:349.4px;width:0;display:flex;justify-content:center;top:364.03px;font:bold 5.4px/6.48px 'Liberation Sans', sans-serif;color:#3b79b5;white-space:nowrap;"><span style="display:inline-block;transform:scaleX(1.01);transform-origin:50% 50%;">Max.</span></div>
<div style="left:200.5px;width:0;display:flex;justify-content:center;top:370.57px;font:bold 4.8px/5.76px 'Liberation Sans', sans-serif;color:#111;white-space:nowrap;"><span style="display:inline-block;transform:scaleX(0.9);transform-origin:50% 50%;">0,06%</span></div>
<div style="left:236.5px;width:0;display:flex;justify-content:center;top:370.57px;font:bold 4.8px/5.76px 'Liberation Sans', sans-serif;color:#111;white-space:nowrap;"><span style="display:inline-block;transform:scaleX(0.99);transform-origin:50% 50%;">600 Kb/s</span></div>
<div style="left:272.6px;width:0;display:flex;justify-content:center;top:370.57px;font:bold 4.8px/5.76px 'Liberation Sans', sans-serif;color:#111;white-space:nowrap;"><span style="display:inline-block;transform:scaleX(1.02);transform-origin:50% 50%;">3.67 Mb/s</span></div>
<div style="left:313.2px;width:0;display:flex;justify-content:center;top:370.57px;font:bold 4.8px/5.76px 'Liberation Sans', sans-serif;color:#111;white-space:nowrap;"><span style="display:inline-block;transform:scaleX(1.02);transform-origin:50% 50%;">8.34 Mb/s</span></div>
<div style="left:349.3px;width:0;display:flex;justify-content:center;top:370.57px;font:bold 4.8px/5.76px 'Liberation Sans', sans-serif;color:#111;white-space:nowrap;"><span style="display:inline-block;transform:scaleX(1);transform-origin:50% 50%;">1 Gb/s</span></div>
<div style="left:9.5px;top:375.6px;width:353.2px;height:0.6px;background:#5b8fc0"></div>
<div style="left:200.5px;width:0;display:flex;justify-content:center;top:376.83px;font:bold 4.8px/5.76px 'Liberation Sans', sans-serif;color:#111;white-space:nowrap;"><span style="display:inline-block;transform:scaleX(0.9);transform-origin:50% 50%;">0,06%</span></div>
<div style="left:236.5px;width:0;display:flex;justify-content:center;top:376.83px;font:bold 4.8px/5.76px 'Liberation Sans', sans-serif;color:#111;white-space:nowrap;"><span style="display:inline-block;transform:scaleX(0.99);transform-origin:50% 50%;">596 Kb/s</span></div>
<div style="left:272.6px;width:0;display:flex;justify-content:center;top:376.83px;font:bold 4.8px/5.76px 'Liberation Sans', sans-serif;color:#111;white-space:nowrap;"><span style="display:inline-block;transform:scaleX(1.02);transform-origin:50% 50%;">3.66 Mb/s</span></div>
<div style="left:313.2px;width:0;display:flex;justify-content:center;top:376.83px;font:bold 4.8px/5.76px 'Liberation Sans', sans-serif;color:#111;white-space:nowrap;"><span style="display:inline-block;transform:scaleX(1.02);transform-origin:50% 50%;">6.71 Mb/s</span></div>
<div style="left:349.3px;width:0;display:flex;justify-content:center;top:376.83px;font:bold 4.8px/5.76px 'Liberation Sans', sans-serif;color:#111;white-space:nowrap;"><span style="display:inline-block;transform:scaleX(1);transform-origin:50% 50%;">1 Gb/s</span></div>
<div style="left:9.5px;top:381.86px;width:353.2px;height:0.6px;background:#5b8fc0"></div>
<div style="left:200.5px;width:0;display:flex;justify-content:center;top:383.09px;font:bold 4.8px/5.76px 'Liberation Sans', sans-serif;color:#111;white-space:nowrap;"><span style="display:inline-block;transform:scaleX(0.9);transform-origin:50% 50%;">0,06%</span></div>
<div style="left:236.5px;width:0;display:flex;justify-content:center;top:383.09px;font:bold 4.8px/5.76px 'Liberation Sans', sans-serif;color:#111;white-space:nowrap;"><span style="display:inline-block;transform:scaleX(0.99);transform-origin:50% 50%;">589 Kb/s</span></div>
<div style="left:272.6px;width:0;display:flex;justify-content:center;top:383.09px;font:bold 4.8px/5.76px 'Liberation Sans', sans-serif;color:#111;white-space:nowrap;"><span style="display:inline-block;transform:scaleX(1.02);transform-origin:50% 50%;">3.69 Mb/s</span></div>
<div style="left:313.2px;width:0;display:flex;justify-content:center;top:383.09px;font:bold 4.8px/5.76px 'Liberation Sans', sans-serif;color:#111;white-space:nowrap;"><span style="display:inline-block;transform:scaleX(1.02);transform-origin:50% 50%;">6.86 Mb/s</span></div>
<div style="left:349.3px;width:0;display:flex;justify-content:center;top:383.09px;font:bold 4.8px/5.76px 'Liberation Sans', sans-serif;color:#111;white-space:nowrap;"><span style="display:inline-block;transform:scaleX(1);transform-origin:50% 50%;">1 Gb/s</span></div>
<div style="left:9.5px;top:388.12px;width:353.2px;height:0.6px;background:#5b8fc0"></div>
<div style="left:200.5px;width:0;display:flex;justify-content:center;top:389.35px;font:bold 4.8px/5.76px 'Liberation Sans', sans-serif;color:#111;white-space:nowrap;"><span style="display:inline-block;transform:scaleX(0.9);transform-origin:50% 50%;">0,06%</span></div>
<div style="left:236.5px;width:0;display:flex;justify-content:center;top:389.35px;font:bold 4.8px/5.76px 'Liberation Sans', sans-serif;color:#111;white-space:nowrap;"><span style="display:inline-block;transform:scaleX(0.99);transform-origin:50% 50%;">585 Kb/s</span></div>
<div style="left:272.6px;width:0;display:flex;justify-content:center;top:389.35px;font:bold 4.8px/5.76px 'Liberation Sans', sans-serif;color:#111;white-space:nowrap;"><span style="display:inline-block;transform:scaleX(1.02);transform-origin:50% 50%;">3.64 Mb/s</span></div>
<div style="left:313.2px;width:0;display:flex;justify-content:center;top:389.35px;font:bold 4.8px/5.76px 'Liberation Sans', sans-serif;color:#111;white-space:nowrap;"><span style="display:inline-block;transform:scaleX(1.02);transform-origin:50% 50%;">6.53 Mb/s</span></div>
<div style="left:349.3px;width:0;display:flex;justify-content:center;top:389.35px;font:bold 4.8px/5.76px 'Liberation Sans', sans-serif;color:#111;white-space:nowrap;"><span style="display:inline-block;transform:scaleX(1);transform-origin:50% 50%;">1 Gb/s</span></div>
<div style="left:9.5px;top:394.38px;width:353.2px;height:0.6px;background:#5b8fc0"></div>
<div style="left:200.5px;width:0;display:flex;justify-content:center;top:395.61px;font:bold 4.8px/5.76px 'Liberation Sans', sans-serif;color:#111;white-space:nowrap;"><span style="display:inline-block;transform:scaleX(0.9);transform-origin:50% 50%;">0,06%</span></div>
<div style="left:236.5px;width:0;display:flex;justify-content:center;top:395.61px;font:bold 4.8px/5.76px 'Liberation Sans', sans-serif;color:#111;white-space:nowrap;"><span style="display:inline-block;transform:scaleX(0.99);transform-origin:50% 50%;">577 Kb/s</span></div>
<div style="left:272.6px;width:0;display:flex;justify-content:center;top:395.61px;font:bold 4.8px/5.76px 'Liberation Sans', sans-serif;color:#111;white-space:nowrap;"><span style="display:inline-block;transform:scaleX(1.02);transform-origin:50% 50%;">3.63 Mb/s</span></div>
<div style="left:313.2px;width:0;display:flex;justify-content:center;top:395.61px;font:bold 4.8px/5.76px 'Liberation Sans', sans-serif;color:#111;white-space:nowrap;"><span style="display:inline-block;transform:scaleX(1.02);transform-origin:50% 50%;">6.45 Mb/s</span></div>
<div style="left:349.3px;width:0;display:flex;justify-content:center;top:395.61px;font:bold 4.8px/5.76px 'Liberation Sans', sans-serif;color:#111;white-space:nowrap;"><span style="display:inline-block;transform:scaleX(1);transform-origin:50% 50%;">1 Gb/s</span></div>
<div style="left:9.5px;top:400.64px;width:353.2px;height:0.6px;background:#5b8fc0"></div>
<div style="left:200.5px;width:0;display:flex;justify-content:center;top:401.87px;font:bold 4.8px/5.76px 'Liberation Sans', sans-serif;color:#111;white-space:nowrap;"><span style="display:inline-block;transform:scaleX(0.9);transform-origin:50% 50%;">0,06%</span></div>
<div style="left:236.5px;width:0;display:flex;justify-content:center;top:401.87px;font:bold 4.8px/5.76px 'Liberation Sans', sans-serif;color:#111;white-space:nowrap;"><span style="display:inline-block;transform:scaleX(0.99);transform-origin:50% 50%;">574 Kb/s</span></div>
<div style="left:272.6px;width:0;display:flex;justify-content:center;top:401.87px;font:bold 4.8px/5.76px 'Liberation Sans', sans-serif;color:#111;white-space:nowrap;"><span style="display:inline-block;transform:scaleX(1.02);transform-origin:50% 50%;">3.56 Mb/s</span></div>
<div style="left:313.2px;width:0;display:flex;justify-content:center;top:401.87px;font:bold 4.8px/5.76px 'Liberation Sans', sans-serif;color:#111;white-space:nowrap;"><span style="display:inline-block;transform:scaleX(1.02);transform-origin:50% 50%;">6.51 Mb/s</span></div>
<div style="left:349.3px;width:0;display:flex;justify-content:center;top:401.87px;font:bold 4.8px/5.76px 'Liberation Sans', sans-serif;color:#111;white-space:nowrap;"><span style="display:inline-block;transform:scaleX(1);transform-origin:50% 50%;">1 Gb/s</span></div>
<div style="left:9.5px;top:406.9px;width:353.2px;height:0.6px;background:#5b8fc0"></div>
<div style="left:200.5px;width:0;display:flex;justify-content:center;top:408.13px;font:bold 4.8px/5.76px 'Liberation Sans', sans-serif;color:#111;white-space:nowrap;"><span style="display:inline-block;transform:scaleX(0.9);transform-origin:50% 50%;">0,06%</span></div>
<div style="left:236.5px;width:0;display:flex;justify-content:center;top:408.13px;font:bold 4.8px/5.76px 'Liberation Sans', sans-serif;color:#111;white-space:nowrap;"><span style="display:inline-block;transform:scaleX(0.99);transform-origin:50% 50%;">569 Kb/s</span></div>
<div style="left:272.6px;width:0;display:flex;justify-content:center;top:408.13px;font:bold 4.8px/5.76px 'Liberation Sans', sans-serif;color:#111;white-space:nowrap;"><span style="display:inline-block;transform:scaleX(1.02);transform-origin:50% 50%;">3.65 Mb/s</span></div>
<div style="left:313.2px;width:0;display:flex;justify-content:center;top:408.13px;font:bold 4.8px/5.76px 'Liberation Sans', sans-serif;color:#111;white-space:nowrap;"><span style="display:inline-block;transform:scaleX(1.02);transform-origin:50% 50%;">8.03 Mb/s</span></div>
<div style="left:349.3px;width:0;display:flex;justify-content:center;top:408.13px;font:bold 4.8px/5.76px 'Liberation Sans', sans-serif;color:#111;white-space:nowrap;"><span style="display:inline-block;transform:scaleX(1);transform-origin:50% 50%;">1 Gb/s</span></div>
<div style="left:9.5px;top:413.16px;width:353.2px;height:0.6px;background:#5b8fc0"></div>
<div style="left:200.5px;width:0;display:flex;justify-content:center;top:414.39px;font:bold 4.8px/5.76px 'Liberation Sans', sans-serif;color:#111;white-space:nowrap;"><span style="display:inline-block;transform:scaleX(0.9);transform-origin:50% 50%;">0,06%</span></div>
<div style="left:236.5px;width:0;display:flex;justify-content:center;top:414.39px;font:bold 4.8px/5.76px 'Liberation Sans', sans-serif;color:#111;white-space:nowrap;"><span style="display:inline-block;transform:scaleX(0.99);transform-origin:50% 50%;">566 Kb/s</span></div>
<div style="left:272.6px;width:0;display:flex;justify-content:center;top:414.39px;font:bold 4.8px/5.76px 'Liberation Sans', sans-serif;color:#111;white-space:nowrap;"><span style="display:inline-block;transform:scaleX(1.03);transform-origin:50% 50%;">3.5 Mb/s</span></div>
<div style="left:313.2px;width:0;display:flex;justify-content:center;top:414.39px;font:bold 4.8px/5.76px 'Liberation Sans', sans-serif;color:#111;white-space:nowrap;"><span style="display:inline-block;transform:scaleX(1.02);transform-origin:50% 50%;">7.03 Mb/s</span></div>
<div style="left:349.3px;width:0;display:flex;justify-content:center;top:414.39px;font:bold 4.8px/5.76px 'Liberation Sans', sans-serif;color:#111;white-space:nowrap;"><span style="display:inline-block;transform:scaleX(1);transform-origin:50% 50%;">1 Gb/s</span></div>
<div style="left:9.5px;top:419.42px;width:353.2px;height:0.6px;background:#5b8fc0"></div>
<div style="left:200.5px;width:0;display:flex;justify-content:center;top:420.65px;font:bold 4.8px/5.76px 'Liberation Sans', sans-serif;color:#111;white-space:nowrap;"><span style="display:inline-block;transform:scaleX(0.9);transform-origin:50% 50%;">0,06%</span></div>
<div style="left:236.5px;width:0;display:flex;justify-content:center;top:420.65px;font:bold 4.8px/5.76px 'Liberation Sans', sans-serif;color:#111;white-space:nowrap;"><span style="display:inline-block;transform:scaleX(0.99);transform-origin:50% 50%;">565 Kb/s</span></div>
<div style="left:272.6px;width:0;display:flex;justify-content:center;top:420.65px;font:bold 4.8px/5.76px 'Liberation Sans', sans-serif;color:#111;white-space:nowrap;"><span style="display:inline-block;transform:scaleX(1.02);transform-origin:50% 50%;">3.45 Mb/s</span></div>
<div style="left:313.2px;width:0;display:flex;justify-content:center;top:420.65px;font:bold 4.8px/5.76px 'Liberation Sans', sans-serif;color:#111;white-space:nowrap;"><span style="display:inline-block;transform:scaleX(1.02);transform-origin:50% 50%;">6.45 Mb/s</span></div>
<div style="left:349.3px;width:0;display:flex;justify-content:center;top:420.65px;font:bold 4.8px/5.76px 'Liberation Sans', sans-serif;color:#111;white-space:nowrap;"><span style="display:inline-block;transform:scaleX(1);transform-origin:50% 50%;">1 Gb/s</span></div>
<div style="left:9.5px;top:425.68px;width:353.2px;height:0.6px;background:#5b8fc0"></div>
<div style="left:200.5px;width:0;display:flex;justify-content:center;top:426.91px;font:bold 4.8px/5.76px 'Liberation Sans', sans-serif;color:#111;white-space:nowrap;"><span style="display:inline-block;transform:scaleX(0.9);transform-origin:50% 50%;">0,06%</span></div>
<div style="left:236.5px;width:0;display:flex;justify-content:center;top:426.91px;font:bold 4.8px/5.76px 'Liberation Sans', sans-serif;color:#111;white-space:nowrap;"><span style="display:inline-block;transform:scaleX(0.99);transform-origin:50% 50%;">563 Kb/s</span></div>
<div style="left:272.6px;width:0;display:flex;justify-content:center;top:426.91px;font:bold 4.8px/5.76px 'Liberation Sans', sans-serif;color:#111;white-space:nowrap;"><span style="display:inline-block;transform:scaleX(1.02);transform-origin:50% 50%;">3.57 Mb/s</span></div>
<div style="left:313.2px;width:0;display:flex;justify-content:center;top:426.91px;font:bold 4.8px/5.76px 'Liberation Sans', sans-serif;color:#111;white-space:nowrap;"><span style="display:inline-block;transform:scaleX(1.02);transform-origin:50% 50%;">7.07 Mb/s</span></div>
<div style="left:349.3px;width:0;display:flex;justify-content:center;top:426.91px;font:bold 4.8px/5.76px 'Liberation Sans', sans-serif;color:#111;white-space:nowrap;"><span style="display:inline-block;transform:scaleX(1);transform-origin:50% 50%;">1 Gb/s</span></div>
<div style="left:9.5px;top:431.94px;width:353.2px;height:0.6px;background:#5b8fc0"></div>
<div style="left:9.5px;top:502.8px;width:355.4px;height:0.8px;background:#bbb"></div>
<div style="left:349px;width:0;display:flex;justify-content:center;top:506.06px;font:bold 4.4px/5.28px 'Liberation Sans', sans-serif;color:#111;white-space:nowrap;"><span style="display:inline-block;transform:scaleX(1.31);transform-origin:50% 50%;">1/2</span></div>
</div>
<div class="pg" style="left:571px;top:49px;width:364px;height:513px;z-index:7">
<div style="left:10px;top:8.4px;width:346px;height:44.6px;background:#3e7eb6"></div>
<svg style="position:absolute;left:10px;top:8.4px;overflow:hidden;" width="346" height="44.6" viewBox="581 57.4 346 44.6"><circle cx="821.9" cy="67.6" r="16.5" fill="none" stroke="#9cc8ea" stroke-width="0.7" stroke-dasharray="1.3 0.9"/><g fill="none" stroke="#a6d3f2" stroke-width="0.82" stroke-linecap="round"><path d="M830.5,67.6 A8.6,8.6 0 1,0 826.46,74.89"/><circle cx="821.9" cy="67.35" r="3.44"/><path d="M825.26,64 V68.58 C825.26,71.04 828.04,71.37 829.44,70.22 C830.25,69.48 830.5,68.42 830.5,67.6"/></g><line x1="816" y1="84" x2="802" y2="102" stroke="#8fbbe0" stroke-width="0.6"/><line x1="838" y1="73" x2="849" y2="80.5" stroke="#8fbbe0" stroke-width="0.6"/><line x1="866" y1="57" x2="858.5" y2="77" stroke="#8fbbe0" stroke-width="0.6"/><circle cx="855" cy="88.4" r="11.2" fill="none" stroke="#9cc8ea" stroke-width="0.7" stroke-dasharray="1.3 0.9"/><g fill="none" stroke="#2c5e8e" stroke-width="1.24"><circle cx="852.15" cy="85.55" r="1.62"/><circle cx="857.85" cy="91.25" r="1.62"/><line x1="859.27" y1="83.65" x2="850.73" y2="93.15"/></g><line x1="866" y1="88" x2="886" y2="79" stroke="#8fbbe0" stroke-width="0.6"/><circle cx="900" cy="74.8" r="14.2" fill="none" stroke="#9cc8ea" stroke-width="0.7" stroke-dasharray="1.3 0.9"/><g fill="none" stroke="#a6d3f2" stroke-width="1.17"><rect x="894.15" y="65.44" width="11.7" height="3.9" rx="0.65"/><rect x="894.15" y="69.34" width="11.7" height="3.9" rx="0.65"/><rect x="894.15" y="73.24" width="11.7" height="3.9" rx="0.65"/><line x1="900" y1="77.14" x2="900" y2="80"/><line x1="892.2" y1="80.65" x2="907.8" y2="80.65"/></g><circle cx="900" cy="80.65" r="1.56" fill="#a6d3f2"/><line x1="912" y1="82" x2="928" y2="93" stroke="#8fbbe0" stroke-width="0.6"/></svg>
<div style="left:51.3px;top:16.19px;font:bold 9.8px/11.76px 'Liberation Sans', sans-serif;color:#fff;white-space:nowrap;transform:scaleX(1);transform-origin:0 50%;">CLUSTER</div>
<div style="left:51.3px;top:31.3px;font:bold 7.2px/8.64px 'Liberation Sans', sans-serif;color:#e8f0f7;white-space:nowrap;transform:scaleX(1.07);transform-origin:0 50%;">ESX Servers</div>
<div style="left:51.3px;top:41.37px;font:bold 4.8px/5.76px 'Liberation Sans', sans-serif;color:#e8f0f7;white-space:nowrap;">24x7</div>
<svg style="position:absolute;left:137px;top:7.5px;overflow:hidden;" width="88.2" height="38.1" viewBox="708 56.5 88.2 38.1"><polygon points="709,56.5 795.2,56.5 795.2,82 752.1,93.6 709,82" fill="#fff"/></svg>
<svg style="position:absolute;left:147px;top:13.5px;" width="13" height="13" viewBox="0 0 13 12.6"><defs><linearGradient id="lg3_6" x1="0" y1="0" x2="0" y2="1"><stop offset="0" stop-color="#8cc63f"/><stop offset="0.35" stop-color="#3fb07a"/><stop offset="0.6" stop-color="#1e9be0"/><stop offset="0.85" stop-color="#1c3fb0"/><stop offset="1" stop-color="#1d1a8a"/></linearGradient></defs><path d="M11.2,2 L6.2,2 L2,6.3 L6.2,10.6 L11.2,10.6" fill="none" stroke="url(#lg3_6)" stroke-width="3.4" stroke-linejoin="round" stroke-linecap="round"/></svg>
<div style="left:164.5px;top:12.29px;font:normal 9.8px/11.76px 'Liberation Sans', sans-serif;color:#2d3540;white-space:nowrap;transform:scaleX(1.17);transform-origin:0 50%;">centreon</div>
<div style="left:164.5px;top:21.33px;font:normal 5.8px/6.96px 'Liberation Sans', sans-serif;color:#7db536;white-space:nowrap;transform:scaleX(0.98);transform-origin:0 50%;-webkit-text-stroke:0.15px #7db536">business intelligence</div>
<div style="left:10px;top:56px;width:343.7px;height:12.4px;background:#3e7eb6"></div>
<div style="left:114px;top:57.01px;font:bold 9.3px/11.16px 'Liberation Sans', sans-serif;color:#fff;white-space:nowrap;transform:scaleX(0.96);transform-origin:0 50%;">UTILISATION DES DATASTORES</div>
<div style="left:10px;top:76.3px;width:282.3px;height:23.2px;background:#e8e9eb"></div>
<div style="left:110.6px;top:79.4px;font:normal 14px/16.8px 'Liberation Sans', sans-serif;color:#3b6a9a;white-space:nowrap;transform:scaleX(0.95);transform-origin:0 50%;">16</div>
<div style="left:136px;top:86.9px;font:bold 6.8px/8.16px 'Liberation Sans', sans-serif;color:#3b79b5;white-space:nowrap;transform:scaleX(1.14);transform-origin:0 50%;">datastores sont disponibles sur le cluster</div>
<div style="left:10px;top:109.8px;width:120px;height:3.8px;background:#e4e6e9"></div>
<div style="left:236px;top:109.8px;width:116.5px;height:3.8px;background:#e4e6e9"></div>
<div style="left:144px;top:105.79px;font:bold 9.4px/11.28px 'Liberation Sans', sans-serif;color:#8fd0f0;white-space:nowrap;transform:scaleX(0.97);transform-origin:0 50%;">Utilisation globale</div>
<div style="right:221.7px;top:126.09px;font:normal 11.5px/13.8px 'Liberation Sans', sans-serif;color:#3b6a9a;white-space:nowrap;transform:scaleX(1.01);transform-origin:100% 50%;-webkit-text-stroke:0.35px #3b6a9a">650 GB</div>
<div style="left:146.5px;top:130.32px;font:bold 6.3px/7.56px 'Liberation Sans', sans-serif;color:#3b79b5;white-space:nowrap;transform:scaleX(1.04);transform-origin:0 50%;">est la moyenne d&#39;utilisation</div>
<div style="right:41.5px;top:128.82px;font:normal 6.3px/7.56px 'Liberation Sans', sans-serif;color:#555;white-space:nowrap;transform:scaleX(1.1);transform-origin:100% 50%;">-3,07%</div>
<svg style="position:absolute;left:331.5px;top:126.6px;" width="11" height="11" viewBox="0 0 11 11"><path d="M3.2,0 H7.8 V5.5 H11 L5.5,11 L0,5.5 H3.2 Z" fill="#777"/></svg>
<div style="right:221.7px;top:147.09px;font:normal 11.5px/13.8px 'Liberation Sans', sans-serif;color:#3b6a9a;white-space:nowrap;transform:scaleX(1.01);transform-origin:100% 50%;-webkit-text-stroke:0.35px #3b6a9a">650 GB</div>
<div style="left:146.5px;top:151.32px;font:bold 6.3px/7.56px 'Liberation Sans', sans-serif;color:#3b79b5;white-space:nowrap;transform:scaleX(1.03);transform-origin:0 50%;">est la derni&egrave;re valeur d&#39;utilisation</div>
<div style="right:41.5px;top:149.82px;font:normal 6.3px/7.56px 'Liberation Sans', sans-serif;color:#555;white-space:nowrap;transform:scaleX(1.1);transform-origin:100% 50%;">-3,07%</div>
<svg style="position:absolute;left:331.5px;top:147.6px;" width="11" height="11" viewBox="0 0 11 11"><path d="M3.2,0 H7.8 V5.5 H11 L5.5,11 L0,5.5 H3.2 Z" fill="#777"/></svg>
<div style="right:221.7px;top:168.29px;font:normal 11.5px/13.8px 'Liberation Sans', sans-serif;color:#3b6a9a;white-space:nowrap;transform:scaleX(0.95);transform-origin:100% 50%;-webkit-text-stroke:0.35px #3b6a9a">1.26 TB</div>
<div style="left:146.5px;top:172.52px;font:bold 6.3px/7.56px 'Liberation Sans', sans-serif;color:#3b79b5;white-space:nowrap;transform:scaleX(0.87);transform-origin:0 50%;">sont allou&eacute;s sur l&#39;infrastructure</div>
<div style="right:41.5px;top:171.02px;font:normal 6.3px/7.56px 'Liberation Sans', sans-serif;color:#555;white-space:nowrap;transform:scaleX(1.23);transform-origin:100% 50%;">0,00%</div>
<svg style="position:absolute;left:331px;top:170px;" width="12" height="10" viewBox="0 0 12 10"><path d="M0,2.8 H6.5 V0 L12,5 L6.5,10 V7.2 H0 Z" fill="#777"/></svg>
<div style="left:10px;top:141.9px;width:266.5px;height:1px;background:#d0d0d0"></div>
<div style="left:294px;top:141.9px;width:52.6px;height:1px;background:#d0d0d0"></div>
<div style="left:10px;top:163px;width:266.5px;height:1px;background:#d0d0d0"></div>
<div style="left:294px;top:163px;width:52.6px;height:1px;background:#d0d0d0"></div>
<div style="left:285.1px;top:121.3px;width:1px;height:63.7px;background:#c8c8c8"></div>
<div style="left:10px;top:194.6px;width:343.2px;height:13.4px;background:#3e7eb6"></div>
<div style="left:104px;top:196.11px;font:bold 9.3px/11.16px 'Liberation Sans', sans-serif;color:#fff;white-space:nowrap;transform:scaleX(0.96);transform-origin:0 50%;">TOP UTILISATION DES DATASTORES</div>
<div style="left:10px;top:215.6px;width:120px;height:3.8px;background:#e4e6e9"></div>
<div style="left:236px;top:215.6px;width:117.2px;height:3.8px;background:#e4e6e9"></div>
<div style="left:146px;top:211.89px;font:bold 9.4px/11.28px 'Liberation Sans', sans-serif;color:#8fd0f0;white-space:nowrap;transform:scaleX(0.93);transform-origin:0 50%;">Les 5 plus utilis&eacute;s</div>
<div style="left:10px;top:294.4px;width:120px;height:3.8px;background:#e4e6e9"></div>
<div style="left:236px;top:294.4px;width:117.2px;height:3.8px;background:#e4e6e9"></div>
<div style="left:146px;top:290.69px;font:bold 9.4px/11.28px 'Liberation Sans', sans-serif;color:#8fd0f0;white-space:nowrap;transform:scaleX(0.91);transform-origin:0 50%;">Les 5 moins utilis&eacute;s</div>
<div style="left:81.6px;top:234.2px;width:63.6px;height:0.9px;background:#5b8fc0"></div>
<div style="left:113.6px;width:0;display:flex;justify-content:center;top:228.78px;font:bold 5.2px/6.24px 'Liberation Sans', sans-serif;color:#222;white-space:nowrap;"><span style="display:inline-block;transform:scaleX(0.9);transform-origin:50% 50%;">LUN-PROD_3</span></div>
<svg style="position:absolute;left:82.4px;top:239.7px;" width="24.7" height="34.5" viewBox="0 0 24.7 34.5"><path d="M0,2.9 V31.1 A12.35,2.9 0 0,0 24.7,31.1 V2.9 Z" fill="#96d5ee"/><path d="M0,2.9 V9 A12.35,2.9 0 0,0 24.7,9 V2.9 Z" fill="#3a78b0"/><path d="M0,9 A12.35,2.9 0 0,0 24.7,9" fill="none" stroke="#fff" stroke-width="0.7"/><ellipse cx="12.35" cy="3.2" rx="12.05" ry="2.9" fill="#4aa8e8" stroke="#fff" stroke-width="0.7"/></svg>
<div style="left:94.75px;width:0;display:flex;justify-content:center;top:257.09px;font:bold 6.4px/7.68px 'Liberation Sans', sans-serif;color:#fff;white-space:nowrap;"><span style="display:inline-block;transform:scaleX(1.01);transform-origin:50% 50%;">85,00%</span></div>
<div style="left:110.4px;top:245.38px;width:3.6px;height:30.62px;background:#17a08e"></div>
<div style="left:110.5px;top:251.6px;width:0;height:0"><div style="position:absolute;left:0;top:0;transform:rotate(-90deg);transform-origin:0 0;font:bold 3.4px/3.6px 'Liberation Sans';color:#111;white-space:nowrap">85,00%</div></div>
<div style="left:131.6px;width:0;display:flex;justify-content:center;top:240.02px;font:bold 4.6px/5.52px 'Liberation Sans', sans-serif;color:#2b3a6a;white-space:nowrap;"><span style="display:inline-block;transform:scaleX(1.03);transform-origin:50% 50%;">Total</span></div>
<div style="left:131.6px;width:0;display:flex;justify-content:center;top:246.42px;font:bold 4.6px/5.52px 'Liberation Sans', sans-serif;color:#8fd0f0;white-space:nowrap;"><span style="display:inline-block;transform:scaleX(0.99);transform-origin:50% 50%;">3.26 GB</span></div>
<div style="left:131.6px;width:0;display:flex;justify-content:center;top:257.82px;font:bold 4.6px/5.52px 'Liberation Sans', sans-serif;color:#2b3a6a;white-space:nowrap;"><span style="display:inline-block;transform:scaleX(0.97);transform-origin:50% 50%;">Max atteint</span></div>
<div style="left:131.6px;width:0;display:flex;justify-content:center;top:264.02px;font:bold 4.6px/5.52px 'Liberation Sans', sans-serif;color:#8fd0f0;white-space:nowrap;"><span style="display:inline-block;transform:scaleX(0.99);transform-origin:50% 50%;">3.06 GB</span></div>
<div style="left:149.4px;top:234.2px;width:63.6px;height:0.9px;background:#5b8fc0"></div>
<div style="left:181.4px;width:0;display:flex;justify-content:center;top:228.78px;font:bold 5.2px/6.24px 'Liberation Sans', sans-serif;color:#222;white-space:nowrap;"><span style="display:inline-block;transform:scaleX(0.9);transform-origin:50% 50%;">LUN-PROD_2</span></div>
<svg style="position:absolute;left:150.2px;top:239.7px;" width="24.7" height="34.5" viewBox="0 0 24.7 34.5"><path d="M0,2.9 V31.1 A12.35,2.9 0 0,0 24.7,31.1 V2.9 Z" fill="#96d5ee"/><path d="M0,2.9 V7.5 A12.35,2.9 0 0,0 24.7,7.5 V2.9 Z" fill="#3a78b0"/><path d="M0,7.5 A12.35,2.9 0 0,0 24.7,7.5" fill="none" stroke="#fff" stroke-width="0.7"/><ellipse cx="12.35" cy="3.2" rx="12.05" ry="2.9" fill="#4aa8e8" stroke="#fff" stroke-width="0.7"/></svg>
<div style="left:162.55px;width:0;display:flex;justify-content:center;top:257.09px;font:bold 6.4px/7.68px 'Liberation Sans', sans-serif;color:#fff;white-space:nowrap;"><span style="display:inline-block;transform:scaleX(1.01);transform-origin:50% 50%;">86,00%</span></div>
<div style="left:178.2px;top:245.38px;width:3.6px;height:30.62px;background:#17a08e"></div>
<div style="left:178.3px;top:251.6px;width:0;height:0"><div style="position:absolute;left:0;top:0;transform:rotate(-90deg);transform-origin:0 0;font:bold 3.4px/3.6px 'Liberation Sans';color:#111;white-space:nowrap">86,00%</div></div>
<div style="left:199.4px;width:0;display:flex;justify-content:center;top:240.02px;font:bold 4.6px/5.52px 'Liberation Sans', sans-serif;color:#2b3a6a;white-space:nowrap;"><span style="display:inline-block;transform:scaleX(1.03);transform-origin:50% 50%;">Total</span></div>
<div style="left:199.4px;width:0;display:flex;justify-content:center;top:246.42px;font:bold 4.6px/5.52px 'Liberation Sans', sans-serif;color:#8fd0f0;white-space:nowrap;"><span style="display:inline-block;transform:scaleX(0.99);transform-origin:50% 50%;">34.1 GB</span></div>
<div style="left:199.4px;width:0;display:flex;justify-content:center;top:257.82px;font:bold 4.6px/5.52px 'Liberation Sans', sans-serif;color:#2b3a6a;white-space:nowrap;"><span style="display:inline-block;transform:scaleX(0.97);transform-origin:50% 50%;">Max atteint</span></div>
<div style="left:199.4px;width:0;display:flex;justify-content:center;top:264.02px;font:bold 4.6px/5.52px 'Liberation Sans', sans-serif;color:#8fd0f0;white-space:nowrap;"><span style="display:inline-block;transform:scaleX(0.99);transform-origin:50% 50%;">29.3 GB</span></div>
<div style="left:217.2px;top:234.2px;width:63.6px;height:0.9px;background:#5b8fc0"></div>
<div style="left:249.2px;width:0;display:flex;justify-content:center;top:228.78px;font:bold 5.2px/6.24px 'Liberation Sans', sans-serif;color:#222;white-space:nowrap;"><span style="display:inline-block;transform:scaleX(0.93);transform-origin:50% 50%;">LUN-DEV_2</span></div>
<svg style="position:absolute;left:218px;top:239.7px;" width="24.7" height="34.5" viewBox="0 0 24.7 34.5"><path d="M0,2.9 V31.1 A12.35,2.9 0 0,0 24.7,31.1 V2.9 Z" fill="#96d5ee"/><path d="M0,2.9 V10.5 A12.35,2.9 0 0,0 24.7,10.5 V2.9 Z" fill="#3a78b0"/><path d="M0,10.5 A12.35,2.9 0 0,0 24.7,10.5" fill="none" stroke="#fff" stroke-width="0.7"/><ellipse cx="12.35" cy="3.2" rx="12.05" ry="2.9" fill="#4aa8e8" stroke="#fff" stroke-width="0.7"/></svg>
<div style="left:230.35px;width:0;display:flex;justify-content:center;top:257.09px;font:bold 6.4px/7.68px 'Liberation Sans', sans-serif;color:#fff;white-space:nowrap;"><span style="display:inline-block;transform:scaleX(1.01);transform-origin:50% 50%;">75,00%</span></div>
<div style="left:246px;top:247.46px;width:3.6px;height:28.54px;background:#17a08e"></div>
<div style="left:246.1px;top:251.6px;width:0;height:0"><div style="position:absolute;left:0;top:0;transform:rotate(-90deg);transform-origin:0 0;font:bold 3.4px/3.6px 'Liberation Sans';color:#111;white-space:nowrap">75,00%</div></div>
<div style="left:267.2px;width:0;display:flex;justify-content:center;top:240.02px;font:bold 4.6px/5.52px 'Liberation Sans', sans-serif;color:#2b3a6a;white-space:nowrap;"><span style="display:inline-block;transform:scaleX(1.03);transform-origin:50% 50%;">Total</span></div>
<div style="left:267.2px;width:0;display:flex;justify-content:center;top:246.42px;font:bold 4.6px/5.52px 'Liberation Sans', sans-serif;color:#8fd0f0;white-space:nowrap;"><span style="display:inline-block;transform:scaleX(0.99);transform-origin:50% 50%;">38.3 GB</span></div>
<div style="left:267.2px;width:0;display:flex;justify-content:center;top:257.82px;font:bold 4.6px/5.52px 'Liberation Sans', sans-serif;color:#2b3a6a;white-space:nowrap;"><span style="display:inline-block;transform:scaleX(0.97);transform-origin:50% 50%;">Max atteint</span></div>
<div style="left:267.2px;width:0;display:flex;justify-content:center;top:264.02px;font:bold 4.6px/5.52px 'Liberation Sans', sans-serif;color:#8fd0f0;white-space:nowrap;"><span style="display:inline-block;transform:scaleX(0.99);transform-origin:50% 50%;">28.7 GB</span></div>
<div style="left:285px;top:234.2px;width:63.6px;height:0.9px;background:#5b8fc0"></div>
<div style="left:317px;width:0;display:flex;justify-content:center;top:228.78px;font:bold 5.2px/6.24px 'Liberation Sans', sans-serif;color:#222;white-space:nowrap;"><span style="display:inline-block;transform:scaleX(0.87);transform-origin:50% 50%;">LUN-BACKUP</span></div>
<svg style="position:absolute;left:285.8px;top:239.7px;" width="24.7" height="34.5" viewBox="0 0 24.7 34.5"><path d="M0,2.9 V31.1 A12.35,2.9 0 0,0 24.7,31.1 V2.9 Z" fill="#96d5ee"/><path d="M0,2.9 V11.5 A12.35,2.9 0 0,0 24.7,11.5 V2.9 Z" fill="#3a78b0"/><path d="M0,11.5 A12.35,2.9 0 0,0 24.7,11.5" fill="none" stroke="#fff" stroke-width="0.7"/><ellipse cx="12.35" cy="3.2" rx="12.05" ry="2.9" fill="#4aa8e8" stroke="#fff" stroke-width="0.7"/></svg>
<div style="left:298.15px;width:0;display:flex;justify-content:center;top:257.09px;font:bold 6.4px/7.68px 'Liberation Sans', sans-serif;color:#fff;white-space:nowrap;"><span style="display:inline-block;transform:scaleX(1.01);transform-origin:50% 50%;">72,00%</span></div>
<div style="left:313.8px;top:248.16px;width:3.6px;height:27.84px;background:#17a08e"></div>
<div style="left:313.9px;top:251.6px;width:0;height:0"><div style="position:absolute;left:0;top:0;transform:rotate(-90deg);transform-origin:0 0;font:bold 3.4px/3.6px 'Liberation Sans';color:#111;white-space:nowrap">72,00%</div></div>
<div style="left:335px;width:0;display:flex;justify-content:center;top:240.02px;font:bold 4.6px/5.52px 'Liberation Sans', sans-serif;color:#2b3a6a;white-space:nowrap;"><span style="display:inline-block;transform:scaleX(1.03);transform-origin:50% 50%;">Total</span></div>
<div style="left:335px;width:0;display:flex;justify-content:center;top:246.42px;font:bold 4.6px/5.52px 'Liberation Sans', sans-serif;color:#8fd0f0;white-space:nowrap;"><span style="display:inline-block;transform:scaleX(0.99);transform-origin:50% 50%;">99.9 GB</span></div>
<div style="left:335px;width:0;display:flex;justify-content:center;top:257.82px;font:bold 4.6px/5.52px 'Liberation Sans', sans-serif;color:#2b3a6a;white-space:nowrap;"><span style="display:inline-block;transform:scaleX(0.97);transform-origin:50% 50%;">Max atteint</span></div>
<div style="left:335px;width:0;display:flex;justify-content:center;top:264.02px;font:bold 4.6px/5.52px 'Liberation Sans', sans-serif;color:#8fd0f0;white-space:nowrap;"><span style="display:inline-block;transform:scaleX(0.99);transform-origin:50% 50%;">71.9 GB</span></div>
<div style="left:81.6px;top:312.6px;width:63.6px;height:0.9px;background:#5b8fc0"></div>
<div style="left:113.6px;width:0;display:flex;justify-content:center;top:307.18px;font:bold 5.2px/6.24px 'Liberation Sans', sans-serif;color:#222;white-space:nowrap;"><span style="display:inline-block;transform:scaleX(0.89);transform-origin:50% 50%;">LUN-BACKUP_2</span></div>
<svg style="position:absolute;left:82.4px;top:318.1px;" width="24.7" height="34.5" viewBox="0 0 24.7 34.5"><path d="M0,2.9 V31.1 A12.35,2.9 0 0,0 24.7,31.1 V2.9 Z" fill="#96d5ee"/><path d="M0,2.9 V26 A12.35,2.9 0 0,0 24.7,26 V2.9 Z" fill="#3a78b0"/><path d="M0,26 A12.35,2.9 0 0,0 24.7,26" fill="none" stroke="#fff" stroke-width="0.7"/><ellipse cx="12.35" cy="3.2" rx="12.05" ry="2.9" fill="#4aa8e8" stroke="#fff" stroke-width="0.7"/></svg>
<div style="left:94.75px;width:0;display:flex;justify-content:center;top:344.99px;font:bold 6.4px/7.68px 'Liberation Sans', sans-serif;color:#fff;white-space:nowrap;"><span style="display:inline-block;transform:scaleX(1.01);transform-origin:50% 50%;">25,00%</span></div>
<div style="left:110.4px;top:343.96px;width:3.6px;height:10.44px;background:#17a08e"></div>
<div style="left:110.5px;top:343.36px;width:0;height:0"><div style="position:absolute;left:0;top:0;transform:rotate(-90deg);transform-origin:0 0;font:bold 3.4px/3.6px 'Liberation Sans';color:#111;white-space:nowrap">25,00%</div></div>
<div style="left:131.6px;width:0;display:flex;justify-content:center;top:318.42px;font:bold 4.6px/5.52px 'Liberation Sans', sans-serif;color:#2b3a6a;white-space:nowrap;"><span style="display:inline-block;transform:scaleX(1.03);transform-origin:50% 50%;">Total</span></div>
<div style="left:131.6px;width:0;display:flex;justify-content:center;top:324.82px;font:bold 4.6px/5.52px 'Liberation Sans', sans-serif;color:#8fd0f0;white-space:nowrap;"><span style="display:inline-block;transform:scaleX(0.99);transform-origin:50% 50%;">69.2 GB</span></div>
<div style="left:131.6px;width:0;display:flex;justify-content:center;top:336.22px;font:bold 4.6px/5.52px 'Liberation Sans', sans-serif;color:#2b3a6a;white-space:nowrap;"><span style="display:inline-block;transform:scaleX(0.97);transform-origin:50% 50%;">Max atteint</span></div>
<div style="left:131.6px;width:0;display:flex;justify-content:center;top:342.42px;font:bold 4.6px/5.52px 'Liberation Sans', sans-serif;color:#8fd0f0;white-space:nowrap;"><span style="display:inline-block;transform:scaleX(0.99);transform-origin:50% 50%;">17.3 GB</span></div>
<div style="left:149.4px;top:312.6px;width:63.6px;height:0.9px;background:#5b8fc0"></div>
<div style="left:181.4px;width:0;display:flex;justify-content:center;top:307.18px;font:bold 5.2px/6.24px 'Liberation Sans', sans-serif;color:#222;white-space:nowrap;"><span style="display:inline-block;transform:scaleX(0.93);transform-origin:50% 50%;">LUN-DEV_3</span></div>
<svg style="position:absolute;left:150.2px;top:318.1px;" width="24.7" height="34.5" viewBox="0 0 24.7 34.5"><path d="M0,2.9 V31.1 A12.35,2.9 0 0,0 24.7,31.1 V2.9 Z" fill="#96d5ee"/><path d="M0,2.9 V28 A12.35,2.9 0 0,0 24.7,28 V2.9 Z" fill="#3a78b0"/><path d="M0,28 A12.35,2.9 0 0,0 24.7,28" fill="none" stroke="#fff" stroke-width="0.7"/><ellipse cx="12.35" cy="3.2" rx="12.05" ry="2.9" fill="#4aa8e8" stroke="#fff" stroke-width="0.7"/></svg>
<div style="left:162.55px;width:0;display:flex;justify-content:center;top:344.99px;font:bold 6.4px/7.68px 'Liberation Sans', sans-serif;color:#fff;white-space:nowrap;"><span style="display:inline-block;transform:scaleX(1.01);transform-origin:50% 50%;">25,00%</span></div>
<div style="left:178.2px;top:345.35px;width:3.6px;height:9.05px;background:#17a08e"></div>
<div style="left:178.3px;top:344.75px;width:0;height:0"><div style="position:absolute;left:0;top:0;transform:rotate(-90deg);transform-origin:0 0;font:bold 3.4px/3.6px 'Liberation Sans';color:#111;white-space:nowrap">25,00%</div></div>
<div style="left:199.4px;width:0;display:flex;justify-content:center;top:318.42px;font:bold 4.6px/5.52px 'Liberation Sans', sans-serif;color:#2b3a6a;white-space:nowrap;"><span style="display:inline-block;transform:scaleX(1.03);transform-origin:50% 50%;">Total</span></div>
<div style="left:199.4px;width:0;display:flex;justify-content:center;top:324.82px;font:bold 4.6px/5.52px 'Liberation Sans', sans-serif;color:#8fd0f0;white-space:nowrap;"><span style="display:inline-block;transform:scaleX(1.07);transform-origin:50% 50%;">124 GB</span></div>
<div style="left:199.4px;width:0;display:flex;justify-content:center;top:336.22px;font:bold 4.6px/5.52px 'Liberation Sans', sans-serif;color:#2b3a6a;white-space:nowrap;"><span style="display:inline-block;transform:scaleX(0.97);transform-origin:50% 50%;">Max atteint</span></div>
<div style="left:199.4px;width:0;display:flex;justify-content:center;top:342.42px;font:bold 4.6px/5.52px 'Liberation Sans', sans-serif;color:#8fd0f0;white-space:nowrap;"><span style="display:inline-block;transform:scaleX(0.99);transform-origin:50% 50%;">30.9 GB</span></div>
<div style="left:217.2px;top:312.6px;width:63.6px;height:0.9px;background:#5b8fc0"></div>
<div style="left:249.2px;width:0;display:flex;justify-content:center;top:307.18px;font:bold 5.2px/6.24px 'Liberation Sans', sans-serif;color:#222;white-space:nowrap;"><span style="display:inline-block;transform:scaleX(0.91);transform-origin:50% 50%;">LUN-DEV</span></div>
<svg style="position:absolute;left:218px;top:318.1px;" width="24.7" height="34.5" viewBox="0 0 24.7 34.5"><path d="M0,2.9 V31.1 A12.35,2.9 0 0,0 24.7,31.1 V2.9 Z" fill="#96d5ee"/><path d="M0,2.9 V22 A12.35,2.9 0 0,0 24.7,22 V2.9 Z" fill="#3a78b0"/><path d="M0,22 A12.35,2.9 0 0,0 24.7,22" fill="none" stroke="#fff" stroke-width="0.7"/><ellipse cx="12.35" cy="3.2" rx="12.05" ry="2.9" fill="#4aa8e8" stroke="#fff" stroke-width="0.7"/></svg>
<div style="left:230.35px;width:0;display:flex;justify-content:center;top:344.99px;font:bold 6.4px/7.68px 'Liberation Sans', sans-serif;color:#fff;white-space:nowrap;"><span style="display:inline-block;transform:scaleX(1.01);transform-origin:50% 50%;">38,00%</span></div>
<div style="left:246px;top:340.48px;width:3.6px;height:13.92px;background:#17a08e"></div>
<div style="left:246.1px;top:339.88px;width:0;height:0"><div style="position:absolute;left:0;top:0;transform:rotate(-90deg);transform-origin:0 0;font:bold 3.4px/3.6px 'Liberation Sans';color:#111;white-space:nowrap">38,00%</div></div>
<div style="left:267.2px;width:0;display:flex;justify-content:center;top:318.42px;font:bold 4.6px/5.52px 'Liberation Sans', sans-serif;color:#2b3a6a;white-space:nowrap;"><span style="display:inline-block;transform:scaleX(1.03);transform-origin:50% 50%;">Total</span></div>
<div style="left:267.2px;width:0;display:flex;justify-content:center;top:324.82px;font:bold 4.6px/5.52px 'Liberation Sans', sans-serif;color:#8fd0f0;white-space:nowrap;"><span style="display:inline-block;transform:scaleX(1.06);transform-origin:50% 50%;">560 MB</span></div>
<div style="left:267.2px;width:0;display:flex;justify-content:center;top:336.22px;font:bold 4.6px/5.52px 'Liberation Sans', sans-serif;color:#2b3a6a;white-space:nowrap;"><span style="display:inline-block;transform:scaleX(0.97);transform-origin:50% 50%;">Max atteint</span></div>
<div style="left:267.2px;width:0;display:flex;justify-content:center;top:342.42px;font:bold 4.6px/5.52px 'Liberation Sans', sans-serif;color:#8fd0f0;white-space:nowrap;"><span style="display:inline-block;transform:scaleX(1.06);transform-origin:50% 50%;">213 MB</span></div>
<div style="left:285px;top:312.6px;width:63.6px;height:0.9px;background:#5b8fc0"></div>
<div style="left:317px;width:0;display:flex;justify-content:center;top:307.18px;font:bold 5.2px/6.24px 'Liberation Sans', sans-serif;color:#222;white-space:nowrap;"><span style="display:inline-block;transform:scaleX(0.99);transform-origin:50% 50%;">LUN-ISO_3</span></div>
<svg style="position:absolute;left:285.8px;top:318.1px;" width="24.7" height="34.5" viewBox="0 0 24.7 34.5"><path d="M0,2.9 V31.1 A12.35,2.9 0 0,0 24.7,31.1 V2.9 Z" fill="#96d5ee"/><path d="M0,2.9 V21 A12.35,2.9 0 0,0 24.7,21 V2.9 Z" fill="#3a78b0"/><path d="M0,21 A12.35,2.9 0 0,0 24.7,21" fill="none" stroke="#fff" stroke-width="0.7"/><ellipse cx="12.35" cy="3.2" rx="12.05" ry="2.9" fill="#4aa8e8" stroke="#fff" stroke-width="0.7"/></svg>
<div style="left:298.15px;width:0;display:flex;justify-content:center;top:344.99px;font:bold 6.4px/7.68px 'Liberation Sans', sans-serif;color:#fff;white-space:nowrap;"><span style="display:inline-block;transform:scaleX(1.01);transform-origin:50% 50%;">40,89%</span></div>
<div style="left:313.8px;top:339.09px;width:3.6px;height:15.31px;background:#17a08e"></div>
<div style="left:313.9px;top:338.49px;width:0;height:0"><div style="position:absolute;left:0;top:0;transform:rotate(-90deg);transform-origin:0 0;font:bold 3.4px/3.6px 'Liberation Sans';color:#111;white-space:nowrap">40,89%</div></div>
<div style="left:335px;width:0;display:flex;justify-content:center;top:318.42px;font:bold 4.6px/5.52px 'Liberation Sans', sans-serif;color:#2b3a6a;white-space:nowrap;"><span style="display:inline-block;transform:scaleX(1.03);transform-origin:50% 50%;">Total</span></div>
<div style="left:335px;width:0;display:flex;justify-content:center;top:324.82px;font:bold 4.6px/5.52px 'Liberation Sans', sans-serif;color:#8fd0f0;white-space:nowrap;"><span style="display:inline-block;transform:scaleX(1.07);transform-origin:50% 50%;">100 GB</span></div>
<div style="left:335px;width:0;display:flex;justify-content:center;top:336.22px;font:bold 4.6px/5.52px 'Liberation Sans', sans-serif;color:#2b3a6a;white-space:nowrap;"><span style="display:inline-block;transform:scaleX(0.97);transform-origin:50% 50%;">Max atteint</span></div>
<div style="left:335px;width:0;display:flex;justify-content:center;top:342.42px;font:bold 4.6px/5.52px 'Liberation Sans', sans-serif;color:#8fd0f0;white-space:nowrap;"><span style="display:inline-block;transform:scaleX(1.28);transform-origin:50% 50%;">41 GB</span></div>
<div style="left:10px;top:368.7px;width:343.2px;height:12.3px;background:#3e7eb6"></div>
<div style="left:121.8px;top:369.81px;font:bold 9.3px/11.16px 'Liberation Sans', sans-serif;color:#fff;white-space:nowrap;transform:scaleX(0.94);transform-origin:0 50%;">IOPS SUR LES DATASTORES</div>
<svg style="position:absolute;left:110px;top:391px;" width="14" height="14" viewBox="0 0 14 14"><g fill="none" stroke="#777" stroke-width="0.8"><path d="M1,9 L3.5,5 H10.5 L13,9 V13 H1 Z"/><line x1="1" y1="9" x2="13" y2="9"/><line x1="7" y1="0.5" x2="7" y2="6"/><path d="M5,2.5 L7,0.5 L9,2.5"/><line x1="2.5" y1="11" x2="3.5" y2="11"/></g></svg>
<svg style="position:absolute;left:279px;top:391px;" width="14" height="14" viewBox="0 0 14 14"><g fill="none" stroke="#777" stroke-width="0.8"><path d="M1,9 L3.5,5 H10.5 L13,9 V13 H1 Z"/><line x1="1" y1="9" x2="13" y2="9"/><line x1="7" y1="0.5" x2="7" y2="6"/><path d="M5,4 L7,6 L9,4"/><line x1="2.5" y1="11" x2="3.5" y2="11"/></g></svg>
<div style="left:227px;width:0;display:flex;justify-content:center;top:390.78px;font:bold 7.3px/8.76px 'Liberation Sans', sans-serif;color:#3b79b5;white-space:nowrap;"><span style="display:inline-block;transform:scaleX(1.1);transform-origin:50% 50%;">Ecriture ( I/O par</span></div>
<div style="left:227px;width:0;display:flex;justify-content:center;top:399.98px;font:bold 7.3px/8.76px 'Liberation Sans', sans-serif;color:#3b79b5;white-space:nowrap;"><span style="display:inline-block;transform:scaleX(1.06);transform-origin:50% 50%;">seconde )</span></div>
<div style="left:10px;top:413px;width:169.7px;height:52.4px;background:#e8e9eb"></div>
<div style="left:139.5px;width:0;display:flex;justify-content:center;top:415.37px;font:bold 8.6px/10.32px 'Liberation Sans', sans-serif;color:#3b79b5;white-space:nowrap;"><span style="display:inline-block;transform:scaleX(0.9);transform-origin:50% 50%;">BOTTOM</span></div>
<div style="left:126.5px;width:0;display:flex;justify-content:center;top:428.28px;font:normal 5.6px/6.72px 'Liberation Sans', sans-serif;color:#3b79b5;white-space:nowrap;-webkit-text-stroke:0.2px #3b79b5"><span style="display:inline-block;transform:scaleX(0.83);transform-origin:50% 50%;">BACKUP</span></div>
<div style="right:190px;top:428.28px;font:bold 5.6px/6.72px 'Liberation Sans', sans-serif;color:#111;white-space:nowrap;transform:scaleX(0.86);transform-origin:100% 50%;">191,32</div>
<div style="left:10px;top:434.8px;width:167.7px;height:0.6px;background:#cfd3d8"></div>
<div style="left:126.5px;width:0;display:flex;justify-content:center;top:435.68px;font:normal 5.6px/6.72px 'Liberation Sans', sans-serif;color:#3b79b5;white-space:nowrap;-webkit-text-stroke:0.2px #3b79b5"><span style="display:inline-block;transform:scaleX(0.87);transform-origin:50% 50%;">BACKUP_2</span></div>
<div style="right:190px;top:435.68px;font:bold 5.6px/6.72px 'Liberation Sans', sans-serif;color:#111;white-space:nowrap;transform:scaleX(0.86);transform-origin:100% 50%;">193,75</div>
<div style="left:10px;top:442.2px;width:167.7px;height:0.6px;background:#cfd3d8"></div>
<div style="left:126.5px;width:0;display:flex;justify-content:center;top:443.08px;font:normal 5.6px/6.72px 'Liberation Sans', sans-serif;color:#3b79b5;white-space:nowrap;-webkit-text-stroke:0.2px #3b79b5"><span style="display:inline-block;transform:scaleX(1);transform-origin:50% 50%;">LUN-ISO_3</span></div>
<div style="right:190px;top:443.08px;font:bold 5.6px/6.72px 'Liberation Sans', sans-serif;color:#111;white-space:nowrap;transform:scaleX(0.86);transform-origin:100% 50%;">194,15</div>
<div style="left:10px;top:449.6px;width:167.7px;height:0.6px;background:#cfd3d8"></div>
<div style="left:126.5px;width:0;display:flex;justify-content:center;top:450.48px;font:normal 5.6px/6.72px 'Liberation Sans', sans-serif;color:#3b79b5;white-space:nowrap;-webkit-text-stroke:0.2px #3b79b5"><span style="display:inline-block;transform:scaleX(0.88);transform-origin:50% 50%;">LUN-PROD</span></div>
<div style="right:190px;top:450.48px;font:bold 5.6px/6.72px 'Liberation Sans', sans-serif;color:#111;white-space:nowrap;transform:scaleX(0.86);transform-origin:100% 50%;">194,56</div>
<div style="left:10px;top:457px;width:167.7px;height:0.6px;background:#cfd3d8"></div>
<div style="left:126.5px;width:0;display:flex;justify-content:center;top:457.88px;font:normal 5.6px/6.72px 'Liberation Sans', sans-serif;color:#3b79b5;white-space:nowrap;-webkit-text-stroke:0.2px #3b79b5"><span style="display:inline-block;transform:scaleX(0.91);transform-origin:50% 50%;">LUN-DEV</span></div>
<div style="right:190px;top:457.88px;font:bold 5.6px/6.72px 'Liberation Sans', sans-serif;color:#111;white-space:nowrap;transform:scaleX(0.86);transform-origin:100% 50%;">196,23</div>
<div style="left:10px;top:464.4px;width:167.7px;height:0.6px;background:#cfd3d8"></div>
<div style="left:186.3px;top:413px;width:83.4px;height:52.4px;background:#e8e9eb"></div>
<div style="left:228px;width:0;display:flex;justify-content:center;top:415.37px;font:bold 8.6px/10.32px 'Liberation Sans', sans-serif;color:#3b79b5;white-space:nowrap;"><span style="display:inline-block;transform:scaleX(0.88);transform-origin:50% 50%;">TOP</span></div>
<div style="left:214.5px;width:0;display:flex;justify-content:center;top:428.28px;font:normal 5.6px/6.72px 'Liberation Sans', sans-serif;color:#3b79b5;white-space:nowrap;-webkit-text-stroke:0.2px #3b79b5"><span style="display:inline-block;transform:scaleX(0.87);transform-origin:50% 50%;">BACKUP_1</span></div>
<div style="right:99.1px;top:428.28px;font:bold 5.6px/6.72px 'Liberation Sans', sans-serif;color:#111;white-space:nowrap;transform:scaleX(0.86);transform-origin:100% 50%;">210,19</div>
<div style="left:186.3px;top:434.8px;width:81.4px;height:0.6px;background:#cfd3d8"></div>
<div style="left:214.5px;width:0;display:flex;justify-content:center;top:435.68px;font:normal 5.6px/6.72px 'Liberation Sans', sans-serif;color:#3b79b5;white-space:nowrap;-webkit-text-stroke:0.2px #3b79b5"><span style="display:inline-block;transform:scaleX(0.87);transform-origin:50% 50%;">BACKUP_2</span></div>
<div style="right:99.1px;top:435.68px;font:bold 5.6px/6.72px 'Liberation Sans', sans-serif;color:#111;white-space:nowrap;transform:scaleX(0.86);transform-origin:100% 50%;">206,60</div>
<div style="left:186.3px;top:442.2px;width:81.4px;height:0.6px;background:#cfd3d8"></div>
<div style="left:214.5px;width:0;display:flex;justify-content:center;top:443.08px;font:normal 5.6px/6.72px 'Liberation Sans', sans-serif;color:#3b79b5;white-space:nowrap;-webkit-text-stroke:0.2px #3b79b5"><span style="display:inline-block;transform:scaleX(0.91);transform-origin:50% 50%;">LUN-DEV</span></div>
<div style="right:99.1px;top:443.08px;font:bold 5.6px/6.72px 'Liberation Sans', sans-serif;color:#111;white-space:nowrap;transform:scaleX(0.86);transform-origin:100% 50%;">206,15</div>
<div style="left:186.3px;top:449.6px;width:81.4px;height:0.6px;background:#cfd3d8"></div>
<div style="left:214.5px;width:0;display:flex;justify-content:center;top:450.48px;font:normal 5.6px/6.72px 'Liberation Sans', sans-serif;color:#3b79b5;white-space:nowrap;-webkit-text-stroke:0.2px #3b79b5"><span style="display:inline-block;transform:scaleX(0.9);transform-origin:50% 50%;">LUN-PROD_2</span></div>
<div style="right:99.1px;top:450.48px;font:bold 5.6px/6.72px 'Liberation Sans', sans-serif;color:#111;white-space:nowrap;transform:scaleX(0.86);transform-origin:100% 50%;">204,65</div>
<div style="left:186.3px;top:457px;width:81.4px;height:0.6px;background:#cfd3d8"></div>
<div style="left:214.5px;width:0;display:flex;justify-content:center;top:457.88px;font:normal 5.6px/6.72px 'Liberation Sans', sans-serif;color:#3b79b5;white-space:nowrap;-webkit-text-stroke:0.2px #3b79b5"><span style="display:inline-block;transform:scaleX(0.83);transform-origin:50% 50%;">BACKUP</span></div>
<div style="right:99.1px;top:457.88px;font:bold 5.6px/6.72px 'Liberation Sans', sans-serif;color:#111;white-space:nowrap;transform:scaleX(0.86);transform-origin:100% 50%;">203,67</div>
<div style="left:186.3px;top:464.4px;width:81.4px;height:0.6px;background:#cfd3d8"></div>
<div style="left:270.5px;top:413px;width:82.7px;height:52.4px;background:#e8e9eb"></div>
<div style="left:311.85px;width:0;display:flex;justify-content:center;top:415.37px;font:bold 8.6px/10.32px 'Liberation Sans', sans-serif;color:#3b79b5;white-space:nowrap;"><span style="display:inline-block;transform:scaleX(0.9);transform-origin:50% 50%;">BOTTOM</span></div>
<div style="left:299.7px;width:0;display:flex;justify-content:center;top:428.28px;font:normal 5.6px/6.72px 'Liberation Sans', sans-serif;color:#3b79b5;white-space:nowrap;-webkit-text-stroke:0.2px #3b79b5"><span style="display:inline-block;transform:scaleX(0.9);transform-origin:50% 50%;">LUN-PROD_3</span></div>
<div style="right:16.7px;top:428.28px;font:bold 5.6px/6.72px 'Liberation Sans', sans-serif;color:#111;white-space:nowrap;transform:scaleX(0.86);transform-origin:100% 50%;">191,20</div>
<div style="left:270.5px;top:434.8px;width:80.7px;height:0.6px;background:#cfd3d8"></div>
<div style="left:299.7px;width:0;display:flex;justify-content:center;top:435.68px;font:normal 5.6px/6.72px 'Liberation Sans', sans-serif;color:#3b79b5;white-space:nowrap;-webkit-text-stroke:0.2px #3b79b5"><span style="display:inline-block;transform:scaleX(0.87);transform-origin:50% 50%;">BACKUP_3</span></div>
<div style="right:16.7px;top:435.68px;font:bold 5.6px/6.72px 'Liberation Sans', sans-serif;color:#111;white-space:nowrap;transform:scaleX(0.86);transform-origin:100% 50%;">191,54</div>
<div style="left:270.5px;top:442.2px;width:80.7px;height:0.6px;background:#cfd3d8"></div>
<div style="left:299.7px;width:0;display:flex;justify-content:center;top:443.08px;font:normal 5.6px/6.72px 'Liberation Sans', sans-serif;color:#3b79b5;white-space:nowrap;-webkit-text-stroke:0.2px #3b79b5"><span style="display:inline-block;transform:scaleX(1);transform-origin:50% 50%;">LUN-ISO_3</span></div>
<div style="right:16.7px;top:443.08px;font:bold 5.6px/6.72px 'Liberation Sans', sans-serif;color:#111;white-space:nowrap;transform:scaleX(0.86);transform-origin:100% 50%;">194,95</div>
<div style="left:270.5px;top:449.6px;width:80.7px;height:0.6px;background:#cfd3d8"></div>
<div style="left:299.7px;width:0;display:flex;justify-content:center;top:450.48px;font:normal 5.6px/6.72px 'Liberation Sans', sans-serif;color:#3b79b5;white-space:nowrap;-webkit-text-stroke:0.2px #3b79b5"><span style="display:inline-block;transform:scaleX(0.93);transform-origin:50% 50%;">LUN-DEV_1</span></div>
<div style="right:16.7px;top:450.48px;font:bold 5.6px/6.72px 'Liberation Sans', sans-serif;color:#111;white-space:nowrap;transform:scaleX(0.86);transform-origin:100% 50%;">196,29</div>
<div style="left:270.5px;top:457px;width:80.7px;height:0.6px;background:#cfd3d8"></div>
<div style="left:299.7px;width:0;display:flex;justify-content:center;top:457.88px;font:normal 5.6px/6.72px 'Liberation Sans', sans-serif;color:#3b79b5;white-space:nowrap;-webkit-text-stroke:0.2px #3b79b5"><span style="display:inline-block;transform:scaleX(0.93);transform-origin:50% 50%;">LUN-DEV_2</span></div>
<div style="right:16.7px;top:457.88px;font:bold 5.6px/6.72px 'Liberation Sans', sans-serif;color:#111;white-space:nowrap;transform:scaleX(0.86);transform-origin:100% 50%;">196,77</div>
<div style="left:270.5px;top:464.4px;width:80.7px;height:0.6px;background:#cfd3d8"></div>
<div style="left:269.8px;top:413px;width:0.8px;height:52.4px;background:#3b79b5"></div>
<div style="left:10px;top:497.1px;width:346px;height:0.9px;background:#bbb"></div>
<div style="left:120.7px;top:499.96px;font:bold 4.4px/5.28px 'Liberation Sans', sans-serif;color:#111;white-space:nowrap;transform:scaleX(1.03);transform-origin:0 50%;">Cr&eacute;&eacute; par Centreon MBI le Wed Apr 27 2016 11:36:21 GMT+0200 (CEST)</div>
<div style="left:321px;width:0;display:flex;justify-content:center;top:499.96px;font:bold 4.4px/5.28px 'Liberation Sans', sans-serif;color:#111;white-space:nowrap;"><span style="display:inline-block;transform:scaleX(0.91);transform-origin:50% 50%;">1  /  2</span></div>
</div>
<div class="pg" style="left:321px;top:83px;width:352px;height:504px;z-index:8">
<div style="left:7.2px;top:6px;width:336.3px;height:44.4px;background:#3e7eb6"></div>
<svg style="position:absolute;left:7.2px;top:6px;overflow:hidden;" width="336.3" height="44.4" viewBox="328.2 89 336.3 44.4"><circle cx="559.9" cy="98.9" r="16.9" fill="none" stroke="#9cc8ea" stroke-width="0.7" stroke-dasharray="1.3 0.9"/><g fill="none" stroke="#a6d3f2" stroke-width="0.82" stroke-linecap="round"><path d="M568.5,98.9 A8.6,8.6 0 1,0 564.46,106.19"/><circle cx="559.9" cy="98.65" r="3.44"/><path d="M563.26,95.3 V99.88 C563.26,102.34 566.04,102.67 567.44,101.52 C568.25,100.78 568.5,99.72 568.5,98.9"/></g><line x1="554.9" y1="116.5" x2="542.3" y2="133.5" stroke="#8fbbe0" stroke-width="0.6"/><line x1="577.5" y1="104.8" x2="588" y2="111.6" stroke="#8fbbe0" stroke-width="0.6"/><line x1="604.9" y1="88" x2="596.5" y2="109.5" stroke="#8fbbe0" stroke-width="0.6"/><circle cx="593.7" cy="119.3" r="9.2" fill="none" stroke="#9cc8ea" stroke-width="0.7" stroke-dasharray="1.3 0.9"/><g fill="none" stroke="#2c5e8e" stroke-width="1.07"><circle cx="591.24" cy="116.84" r="1.39"/><circle cx="596.16" cy="121.76" r="1.39"/><line x1="597.39" y1="115.2" x2="590.01" y2="123.4"/></g><line x1="603.5" y1="119.3" x2="624" y2="110.9" stroke="#8fbbe0" stroke-width="0.6"/><circle cx="638" cy="107.4" r="14.1" fill="none" stroke="#9cc8ea" stroke-width="0.7" stroke-dasharray="1.3 0.9"/><g fill="none" stroke="#a6d3f2" stroke-width="1.17"><rect x="632.15" y="97.94" width="11.7" height="3.9" rx="0.65"/><rect x="632.15" y="101.84" width="11.7" height="3.9" rx="0.65"/><rect x="632.15" y="105.74" width="11.7" height="3.9" rx="0.65"/><line x1="638" y1="109.64" x2="638" y2="112.5"/><line x1="630.2" y1="113.15" x2="645.8" y2="113.15"/></g><circle cx="638" cy="113.15" r="1.56" fill="#a6d3f2"/><line x1="651.4" y1="113.7" x2="666" y2="122.5" stroke="#8fbbe0" stroke-width="0.6"/></svg>
<div style="left:10.5px;top:10.35px;font:bold 15.5px/18.6px 'Liberation Sans', sans-serif;color:#fff;white-space:nowrap;transform:scaleX(0.97);transform-origin:0 50%;">DISPONIBILIT&Eacute;</div>
<div style="left:91.3px;top:41.13px;font:bold 5.4px/6.48px 'Liberation Sans', sans-serif;color:#e8f0f7;white-space:nowrap;transform:scaleX(1.09);transform-origin:0 50%;">24x7</div>
<svg style="position:absolute;left:125.5px;top:5.5px;overflow:hidden;" width="87.6" height="36.8" viewBox="446.5 88.5 87.6 36.8"><polygon points="447.5,88.5 533.1,88.5 533.1,112.3 490.3,124.3 447.5,112.3" fill="#fff"/></svg>
<svg style="position:absolute;left:134.5px;top:11.7px;" width="13" height="13" viewBox="0 0 13 12.6"><defs><linearGradient id="lg2_5" x1="0" y1="0" x2="0" y2="1"><stop offset="0" stop-color="#8cc63f"/><stop offset="0.35" stop-color="#3fb07a"/><stop offset="0.6" stop-color="#1e9be0"/><stop offset="0.85" stop-color="#1c3fb0"/><stop offset="1" stop-color="#1d1a8a"/></linearGradient></defs><path d="M11.2,2 L6.2,2 L2,6.3 L6.2,10.6 L11.2,10.6" fill="none" stroke="url(#lg2_5)" stroke-width="3.4" stroke-linejoin="round" stroke-linecap="round"/></svg>
<div style="left:152px;top:10.49px;font:normal 9.8px/11.76px 'Liberation Sans', sans-serif;color:#2d3540;white-space:nowrap;transform:scaleX(1.17);transform-origin:0 50%;">centreon</div>
<div style="left:152px;top:19.53px;font:normal 5.8px/6.96px 'Liberation Sans', sans-serif;color:#7db536;white-space:nowrap;transform:scaleX(0.98);transform-origin:0 50%;-webkit-text-stroke:0.15px #7db536">business intelligence</div>
<div style="left:7.2px;top:67px;width:337.8px;height:14.4px;background:#3e7eb6"></div>
<div style="left:131.6px;top:68.33px;font:bold 10.5px/12.6px 'Liberation Sans', sans-serif;color:#fff;white-space:nowrap;transform:scaleX(0.99);transform-origin:0 50%;">DB-ORACLE-CRM</div>
<div style="left:9px;top:92.2px;width:246.6px;height:0.8px;background:#ececee"></div>
<div style="left:9px;top:115px;width:246.6px;height:0.8px;background:#ececee"></div>
<div style="left:9px;top:141px;width:246.6px;height:0.8px;background:#ececee"></div>
<div style="left:9px;top:168px;width:246.6px;height:0.8px;background:#ececee"></div>
<div style="left:9px;top:207.3px;width:246.6px;height:0.8px;background:#ececee"></div>
<div style="left:124.3px;top:92.2px;width:0.8px;height:115.9px;background:#ececee"></div>
<div style="left:255.6px;top:92.7px;width:86.2px;height:114.6px;border:0.8px solid #ececee"></div>
<div style="right:228.5px;top:98.99px;font:normal 4.3px/5.16px 'Liberation Serif', serif;color:#444;white-space:nowrap;font-style:italic">ait rendu par</div>
<div style="right:228.5px;top:103.59px;font:normal 4.3px/5.16px 'Liberation Serif', serif;color:#444;white-space:nowrap;font-style:italic">d&eacute;grad&eacute;.</div>
<div style="right:228.5px;top:124.99px;font:normal 4.3px/5.16px 'Liberation Serif', serif;color:#444;white-space:nowrap;font-style:italic">ait seulement</div>
<div style="right:228.5px;top:151.49px;font:normal 4.3px/5.16px 'Liberation Serif', serif;color:#444;white-space:nowrap;font-style:italic">ndus de service. Ils ne</div>
<div style="right:228.5px;top:156.09px;font:normal 4.3px/5.16px 'Liberation Serif', serif;color:#444;white-space:nowrap;font-style:italic">le taux de disponibilit&eacute;.</div>
<div style="right:228.5px;top:176.99px;font:normal 4.3px/5.16px 'Liberation Serif', serif;color:#444;white-space:nowrap;font-style:italic">ait disponible hors</div>
<div style="right:228.5px;top:181.59px;font:normal 4.3px/5.16px 'Liberation Serif', serif;color:#444;white-space:nowrap;font-style:italic">dicateur de service</div>
<svg style="position:absolute;left:125.8px;top:96.2px;" width="20.5" height="16" viewBox="0 0 20.5 16"><g fill="none" stroke="#f4a52a" stroke-width="0.9" stroke-linecap="round"><path d="M9.6,6.6 A3.6,3.6 0 1,0 6.5,11.6"/><line x1="6.1" y1="1.6" x2="6.1" y2="3.0"/><line x1="0.9" y1="8.3" x2="2.3" y2="8.3"/><line x1="2.4" y1="4.6" x2="3.4" y2="5.6"/><line x1="9.8" y1="4.6" x2="8.8" y2="5.6"/><line x1="2.4" y1="12" x2="3.4" y2="11"/></g><path d="M9.6,15.4 h8.2 a2.5,2.5 0 0,0 0.4,-5 a4.6,4.6 0 0,0 -8.8,-1.2 a3.1,3.1 0 0,0 0.2,6.2z" fill="none" stroke="#4ab3e2" stroke-width="1"/></svg>
<svg style="position:absolute;left:125.8px;top:119px;" width="20.5" height="16" viewBox="0 0 20.5 16"><g fill="none" stroke="#f4a52a" stroke-width="0.9" stroke-linecap="round"><path d="M9.6,6.6 A3.6,3.6 0 1,0 6.5,11.6"/><line x1="6.1" y1="1.6" x2="6.1" y2="3.0"/><line x1="0.9" y1="8.3" x2="2.3" y2="8.3"/><line x1="2.4" y1="4.6" x2="3.4" y2="5.6"/><line x1="9.8" y1="4.6" x2="8.8" y2="5.6"/><line x1="2.4" y1="12" x2="3.4" y2="11"/></g><path d="M9.6,15.4 h8.2 a2.5,2.5 0 0,0 0.4,-5 a4.6,4.6 0 0,0 -8.8,-1.2 a3.1,3.1 0 0,0 0.2,6.2z" fill="none" stroke="#4ab3e2" stroke-width="1"/></svg>
<div style="left:126.2px;top:144.5px;width:20.3px;height:21.6px;background:#f7f3fa"></div>
<svg style="position:absolute;left:126.2px;top:144.5px;" width="20.3" height="21.6" viewBox="0 0 20.3 21.6"><g fill="none" stroke="#b47fd8" stroke-width="1"><path d="M3,4 L6,2.5 L17,15 C18.5,15.5 19,17.5 17.5,18.5 C16,19.5 14.5,18.5 14,17 Z"/><path d="M17,3 C15,2 13,3 13,5 L3,16 L4.5,18.5 L15.5,8 C17.5,8.5 19,7 18.5,5 L16.5,6.5 L15,5.2 Z"/></g></svg>
<svg style="position:absolute;left:128.5px;top:173px;" width="17" height="16.5" viewBox="0 0 17 16.5"><path d="M8.5,1 L10.7,6 L16,6.4 L12,9.9 L13.3,15.3 L8.5,12.4 L3.7,15.3 L5,9.9 L1,6.4 L6.3,6 Z" fill="none" stroke="#5cc0ea" stroke-width="0.9" stroke-linejoin="round"/></svg>
<div style="left:182.9px;width:0;display:flex;justify-content:center;top:96.45px;font:bold 10px/12px 'Liberation Sans', sans-serif;color:#2f6aa6;white-space:nowrap;"><span style="display:inline-block;transform:scaleX(1.03);transform-origin:50% 50%;">98,34%</span></div>
<div style="left:182.8px;width:0;display:flex;justify-content:center;top:107.99px;font:bold 4.3px/5.16px 'Liberation Sans', sans-serif;color:#2b5c90;white-space:nowrap;"><span style="display:inline-block;transform:scaleX(1.04);transform-origin:50% 50%;">DISPONIBILIT&Eacute;</span></div>
<div style="left:182.7px;width:0;display:flex;justify-content:center;top:118.84px;font:bold 10px/12px 'Liberation Sans', sans-serif;color:#2f6aa6;white-space:nowrap;"><span style="display:inline-block;transform:scaleX(1.03);transform-origin:50% 50%;">12 h 20 min</span></div>
<div style="left:182.8px;width:0;display:flex;justify-content:center;top:130.19px;font:bold 4.3px/5.16px 'Liberation Sans', sans-serif;color:#2b5c90;white-space:nowrap;"><span style="display:inline-block;transform:scaleX(1.03);transform-origin:50% 50%;">TEMPS INDISPONIBLE</span></div>
<div style="left:182.8px;width:0;display:flex;justify-content:center;top:148.32px;font:bold 8px/9.6px 'Liberation Sans', sans-serif;color:#2f6aa6;white-space:nowrap;">-</div>
<div style="left:182.8px;width:0;display:flex;justify-content:center;top:158.49px;font:bold 4.3px/5.16px 'Liberation Sans', sans-serif;color:#2b5c90;white-space:nowrap;"><span style="display:inline-block;transform:scaleX(1.01);transform-origin:50% 50%;">TEMPS D&#39;ARR&Ecirc;T</span></div>
<div style="left:182.9px;width:0;display:flex;justify-content:center;top:173.34px;font:bold 10px/12px 'Liberation Sans', sans-serif;color:#2f6aa6;white-space:nowrap;"><span style="display:inline-block;transform:scaleX(1.03);transform-origin:50% 50%;">98,34%</span></div>
<div style="left:183px;width:0;display:flex;justify-content:center;top:184.99px;font:bold 4.3px/5.16px 'Liberation Sans', sans-serif;color:#2b5c90;white-space:nowrap;"><span style="display:inline-block;transform:scaleX(1.08);transform-origin:50% 50%;">performance</span></div>
<svg style="position:absolute;left:232.3px;top:97.7px;" width="8" height="7.5" viewBox="0 0 8 7.5"><path d="M0,0 H8 V7.5 L4,5.5 L0,7.5 Z" fill="#8ab53a"/></svg>
<div style="left:236.3px;width:0;display:flex;justify-content:center;top:107.19px;font:bold 4.3px/5.16px 'Liberation Sans', sans-serif;color:#a9c22a;white-space:nowrap;"><span style="display:inline-block;transform:scaleX(1.08);transform-origin:50% 50%;">0,23</span></div>
<svg style="position:absolute;left:232.3px;top:119.9px;" width="8" height="7.5" viewBox="0 0 8 7.5"><path d="M0,0 H8 V7.5 L4,5.5 L0,7.5 Z" fill="#8ab53a"/></svg>
<div style="left:236.3px;width:0;display:flex;justify-content:center;top:129.39px;font:bold 4.3px/5.16px 'Liberation Sans', sans-serif;color:#a9c22a;white-space:nowrap;"><span style="display:inline-block;transform:scaleX(1.08);transform-origin:50% 50%;">-49 min</span></div>
<svg style="position:absolute;left:232.3px;top:172.4px;" width="8" height="7.5" viewBox="0 0 8 7.5"><path d="M0,0 H8 V7.5 L4,5.5 L0,7.5 Z" fill="#8ab53a"/></svg>
<div style="left:236.3px;width:0;display:flex;justify-content:center;top:181.89px;font:bold 4.3px/5.16px 'Liberation Sans', sans-serif;color:#a9c22a;white-space:nowrap;"><span style="display:inline-block;transform:scaleX(1.08);transform-origin:50% 50%;">0,23</span></div>
<svg style="position:absolute;left:232.3px;top:146.8px;" width="8" height="7.5" viewBox="0 0 8 7.5"><path d="M0,0 H6 L8,3.75 L6,7.5 H0 Z" fill="#e1e5ea"/></svg>
<div style="left:236.3px;width:0;display:flex;justify-content:center;top:155.32px;font:bold 5px/6px 'Liberation Sans', sans-serif;color:#444;white-space:nowrap;">-</div>
<div style="left:257px;top:95.44px;font:bold 4.5px/5.4px 'Liberation Sans', sans-serif;color:#2b5c90;white-space:nowrap;transform:scaleX(1.02);transform-origin:0 50%;">Les &eacute;v&eacute;nements d&eacute;clench&eacute;s</div>
<svg style="position:absolute;left:255.6px;top:92.7px;" width="86.2" height="114.6" viewBox="0 0 86.2 114.6"><circle cx="36" cy="49.2" r="25.9" fill="#df0b3a"/><circle cx="54.4" cy="25.6" r="12.7" fill="#c99af0"/><circle cx="56.8" cy="78.6" r="18.4" fill="#e09c1c"/></svg>
<div style="left:291.6px;width:0;display:flex;justify-content:center;top:136.95px;font:bold 8.3px/9.96px 'Liberation Sans', sans-serif;color:#fff;white-space:nowrap;"><span style="display:inline-block;transform:scaleX(1.14);transform-origin:50% 50%;">38</span></div>
<div style="left:310px;width:0;display:flex;justify-content:center;top:115.08px;font:bold 5.2px/6.24px 'Liberation Sans', sans-serif;color:#fff;white-space:nowrap;">0</div>
<div style="left:312.4px;width:0;display:flex;justify-content:center;top:167.1px;font:bold 7.2px/8.64px 'Liberation Sans', sans-serif;color:#fff;white-space:nowrap;">0</div>
<div style="left:266px;top:194px;width:2.3px;height:2.3px;background:#df0b3a"></div>
<div style="left:269.3px;top:192.76px;font:bold 4.4px/5.28px 'Liberation Sans', sans-serif;color:#df0b3a;white-space:nowrap;transform:scaleX(1.09);transform-origin:0 50%;">Indispo.</div>
<div style="left:291px;top:194px;width:2.3px;height:2.3px;background:#c99af0"></div>
<div style="left:294.3px;top:192.76px;font:bold 4.4px/5.28px 'Liberation Sans', sans-serif;color:#c99af0;white-space:nowrap;transform:scaleX(1.07);transform-origin:0 50%;">Arr&ecirc;t prog.</div>
<div style="left:266px;top:201.3px;width:2.3px;height:2.3px;background:#e09c1c"></div>
<div style="left:269.3px;top:199.96px;font:bold 4.4px/5.28px 'Liberation Sans', sans-serif;color:#e09c1c;white-space:nowrap;transform:scaleX(1.12);transform-origin:0 50%;">D&eacute;grad.</div>
<div style="left:7px;top:220.4px;width:339.3px;height:1.2px;background:#5a7a98"></div>
<div style="left:120px;top:232.56px;font:bold 4.4px/5.28px 'Liberation Sans', sans-serif;color:#2b5c90;white-space:nowrap;transform:scaleX(1.02);transform-origin:0 50%;">&Eacute;VOLUTION DES &Eacute;V&Eacute;NEMENTS DE</div>
<div style="left:120px;top:239.66px;font:bold 4.4px/5.28px 'Liberation Sans', sans-serif;color:#2b5c90;white-space:nowrap;transform:scaleX(1.02);transform-origin:0 50%;"><span style="color:#e09c1c">D&Eacute;GRADATION,</span> <span style="color:#df0b3a">D&#39;INDISPONIBILIT&Eacute;,</span> <span style="color:#c99af0">ET ARR&Ecirc;T PROGRAMM&Eacute;</span></div>
<div style="left:9px;top:250.8px;width:103px;height:94.7px;background:#e8e9eb"></div>
<div style="left:75px;top:269.8px;width:10.5px;height:62.1px;background:#96d5ee"></div>
<div style="left:92.2px;top:269.8px;width:10px;height:62.1px;background:#96d5ee"></div>
<div style="left:97.2px;width:0;display:flex;justify-content:center;top:257.49px;font:bold 4.3px/5.16px 'Liberation Sans', sans-serif;color:#2b5c90;white-space:nowrap;transform:rotate(-90deg)">98,34</div>
<div style="left:97.2px;width:0;display:flex;justify-content:center;top:306.49px;font:bold 4.3px/5.16px 'Liberation Sans', sans-serif;color:#e8f4fa;white-space:nowrap;transform:rotate(-90deg)">98,34</div>
<div style="left:97.2px;width:0;display:flex;justify-content:center;top:334.89px;font:normal 4.3px/5.16px 'Liberation Sans', sans-serif;color:#3b79b5;white-space:nowrap;">mars</div>
<div style="left:119px;top:250.9px;width:224.5px;height:95.7px;background:#e8e9eb"></div>
<div style="left:130.4px;top:281.8px;width:5px;height:50.1px;background:#df0b3a"></div>
<div style="left:132.9px;width:0;display:flex;justify-content:center;top:277.31px;font:bold 3.8px/4.56px 'Liberation Sans', sans-serif;color:#df0b3a;white-space:nowrap;">32</div>
<div style="left:133.4px;width:0;display:flex;justify-content:center;top:335.31px;font:normal 4.2px/5.04px 'Liberation Sans', sans-serif;color:#2b5c90;white-space:nowrap;"><span style="display:inline-block;transform:scaleX(1.19);transform-origin:50% 50%;">oct. 15</span></div>
<div style="left:151.9px;top:280px;width:5px;height:51.9px;background:#df0b3a"></div>
<div style="left:154.4px;width:0;display:flex;justify-content:center;top:275.51px;font:bold 3.8px/4.56px 'Liberation Sans', sans-serif;color:#df0b3a;white-space:nowrap;">33</div>
<div style="left:154.9px;width:0;display:flex;justify-content:center;top:335.31px;font:normal 4.2px/5.04px 'Liberation Sans', sans-serif;color:#2b5c90;white-space:nowrap;"><span style="display:inline-block;transform:scaleX(1.11);transform-origin:50% 50%;">nov. 15</span></div>
<div style="left:172.9px;top:275px;width:5px;height:56.9px;background:#df0b3a"></div>
<div style="left:175.4px;width:0;display:flex;justify-content:center;top:270.51px;font:bold 3.8px/4.56px 'Liberation Sans', sans-serif;color:#df0b3a;white-space:nowrap;">36</div>
<div style="left:175.9px;width:0;display:flex;justify-content:center;top:335.31px;font:normal 4.2px/5.04px 'Liberation Sans', sans-serif;color:#2b5c90;white-space:nowrap;"><span style="display:inline-block;transform:scaleX(1.09);transform-origin:50% 50%;">d&eacute;c. 15</span></div>
<div style="left:194.2px;top:308.3px;width:5px;height:23.6px;background:#df0b3a"></div>
<div style="left:196.7px;width:0;display:flex;justify-content:center;top:303.81px;font:bold 3.8px/4.56px 'Liberation Sans', sans-serif;color:#df0b3a;white-space:nowrap;">16</div>
<div style="left:197.2px;width:0;display:flex;justify-content:center;top:335.31px;font:normal 4.2px/5.04px 'Liberation Sans', sans-serif;color:#2b5c90;white-space:nowrap;"><span style="display:inline-block;transform:scaleX(1.04);transform-origin:50% 50%;">janv. 16</span></div>
<div style="left:215.6px;top:275px;width:5px;height:56.9px;background:#df0b3a"></div>
<div style="left:218.1px;width:0;display:flex;justify-content:center;top:270.51px;font:bold 3.8px/4.56px 'Liberation Sans', sans-serif;color:#df0b3a;white-space:nowrap;">36</div>
<div style="left:218.6px;width:0;display:flex;justify-content:center;top:335.31px;font:normal 4.2px/5.04px 'Liberation Sans', sans-serif;color:#2b5c90;white-space:nowrap;"><span style="display:inline-block;transform:scaleX(1.09);transform-origin:50% 50%;">f&eacute;vr. 16</span></div>
<div style="left:236.9px;top:272px;width:5px;height:59.9px;background:#df0b3a"></div>
<div style="left:239.4px;width:0;display:flex;justify-content:center;top:267.51px;font:bold 3.8px/4.56px 'Liberation Sans', sans-serif;color:#df0b3a;white-space:nowrap;">38</div>
<div style="left:239.9px;width:0;display:flex;justify-content:center;top:335.31px;font:normal 4.2px/5.04px 'Liberation Sans', sans-serif;color:#2b5c90;white-space:nowrap;"><span style="display:inline-block;transform:scaleX(0.99);transform-origin:50% 50%;">mars 16</span></div>
<div style="left:129.5px;top:333.3px;width:122.5px;height:0.9px;background:#5b9bd0"></div>
<div style="left:258.7px;top:315.96px;font:normal 4.4px/5.28px 'Liberation Serif', serif;color:#2b5c90;white-space:nowrap;transform:scaleX(1.2);transform-origin:0 50%;font-style:italic">Si l&#39;analyse du taux de disponibilit&eacute; de</div>
<div style="left:258.7px;top:320.86px;font:normal 4.4px/5.28px 'Liberation Serif', serif;color:#2b5c90;white-space:nowrap;transform:scaleX(1.06);transform-origin:0 50%;font-style:italic">l&#39;application permet de connaitre sa qualit&eacute;</div>
<div style="left:258.7px;top:325.76px;font:normal 4.4px/5.28px 'Liberation Serif', serif;color:#2b5c90;white-space:nowrap;transform:scaleX(1.09);transform-origin:0 50%;font-style:italic">de service, le volume de pannes est un bon</div>
<div style="left:258.7px;top:330.66px;font:normal 4.4px/5.28px 'Liberation Serif', serif;color:#2b5c90;white-space:nowrap;transform:scaleX(0.99);transform-origin:0 50%;font-style:italic">indicateur de fiabilit&eacute; du service rendu.</div>
<div style="left:7px;top:352.1px;width:339.3px;height:1.2px;background:#7a98b5"></div>
<div style="left:117.7px;top:379.66px;font:bold 7.8px/9.36px 'Liberation Sans', sans-serif;color:#7ec8ec;white-space:nowrap;transform:scaleX(0.96);transform-origin:0 50%;">CALENDRIER</div>
<div style="left:173.8px;top:379.66px;font:bold 7.8px/9.36px 'Liberation Sans', sans-serif;color:#2f64a0;white-space:nowrap;transform:scaleX(0.96);transform-origin:0 50%;">DES DISPONIBILIT&Eacute;S</div>
<svg style="position:absolute;left:256px;top:374px;" width="21" height="19" viewBox="0 0 21 19"><g fill="none" stroke="#3b79b5" stroke-width="1.1"><path d="M7.5,6 A7,7 0 1,1 10,14.5"/><path d="M12.2,4.5 V8.6 L14.6,10.6"/><rect x="1.6" y="10" width="7.8" height="7.6" rx="0.8" fill="#fff"/><line x1="1.6" y1="12.3" x2="9.4" y2="12.3"/><rect x="3.6" y="13.6" width="3.6" height="2.6"/></g></svg>
<div style="left:9px;top:397px;width:271.8px;height:1px;background:#4a6a88"></div>
<div style="left:78.1px;top:401.4px;width:27.7px;height:5.3px;background:#3a78b0"></div>
<div style="left:91.95px;width:0;display:flex;justify-content:center;top:401.56px;font:bold 4.4px/5.28px 'Liberation Sans', sans-serif;color:#fff;white-space:nowrap;"><span style="display:inline-block;transform:scaleX(1.17);transform-origin:50% 50%;">LUN.</span></div>
<div style="left:107px;top:401.4px;width:27.3px;height:5.3px;background:#3a78b0"></div>
<div style="left:120.65px;width:0;display:flex;justify-content:center;top:401.56px;font:bold 4.4px/5.28px 'Liberation Sans', sans-serif;color:#fff;white-space:nowrap;"><span style="display:inline-block;transform:scaleX(1.07);transform-origin:50% 50%;">MAR.</span></div>
<div style="left:135.5px;top:401.4px;width:27.7px;height:5.3px;background:#3a78b0"></div>
<div style="left:149.35px;width:0;display:flex;justify-content:center;top:401.56px;font:bold 4.4px/5.28px 'Liberation Sans', sans-serif;color:#fff;white-space:nowrap;"><span style="display:inline-block;transform:scaleX(1.09);transform-origin:50% 50%;">MER.</span></div>
<div style="left:164.4px;top:401.4px;width:28px;height:5.3px;background:#3a78b0"></div>
<div style="left:178.4px;width:0;display:flex;justify-content:center;top:401.56px;font:bold 4.4px/5.28px 'Liberation Sans', sans-serif;color:#fff;white-space:nowrap;"><span style="display:inline-block;transform:scaleX(1.02);transform-origin:50% 50%;">JEU.</span></div>
<div style="left:193.6px;top:401.4px;width:27.7px;height:5.3px;background:#3a78b0"></div>
<div style="left:207.45px;width:0;display:flex;justify-content:center;top:401.56px;font:bold 4.4px/5.28px 'Liberation Sans', sans-serif;color:#fff;white-space:nowrap;"><span style="display:inline-block;transform:scaleX(1.17);transform-origin:50% 50%;">VEN.</span></div>
<div style="left:222.5px;top:401.4px;width:27.9px;height:5.3px;background:#3a78b0"></div>
<div style="left:236.45px;width:0;display:flex;justify-content:center;top:401.56px;font:bold 4.4px/5.28px 'Liberation Sans', sans-serif;color:#fff;white-space:nowrap;"><span style="display:inline-block;transform:scaleX(1.09);transform-origin:50% 50%;">SAM.</span></div>
<div style="left:251.6px;top:401.4px;width:27.9px;height:5.3px;background:#3a78b0"></div>
<div style="left:265.55px;width:0;display:flex;justify-content:center;top:401.56px;font:bold 4.4px/5.28px 'Liberation Sans', sans-serif;color:#fff;white-space:nowrap;"><span style="display:inline-block;transform:scaleX(1.29);transform-origin:50% 50%;">DIM.</span></div>
<div style="left:77.5px;top:408.2px;width:28.9px;height:5.6px;background:#96d5ee"></div>
<div style="left:77.5px;top:413.8px;width:28.9px;height:7.5px;background:#d4dbe2"></div>
<div style="left:106.4px;top:408.2px;width:28.5px;height:5.6px;background:#96d5ee"></div>
<div style="left:120.65px;width:0;display:flex;justify-content:center;top:408.62px;font:bold 4.6px/5.52px 'Liberation Sans', sans-serif;color:#fff;white-space:nowrap;">1</div>
<div style="left:106.4px;top:413.8px;width:28.5px;height:7.5px;background:#d4dbe2"></div>
<div style="left:134.9px;top:408.2px;width:28.9px;height:5.6px;background:#96d5ee"></div>
<div style="left:149.35px;width:0;display:flex;justify-content:center;top:408.62px;font:bold 4.6px/5.52px 'Liberation Sans', sans-serif;color:#fff;white-space:nowrap;">2</div>
<div style="left:134.9px;top:413.8px;width:28.9px;height:7.5px;background:#c3cbd2"></div>
<div style="left:151.35px;width:0;display:flex;justify-content:center;top:415.03px;font:bold 5.8px/6.96px 'Liberation Sans', sans-serif;color:#fff;white-space:nowrap;"><span style="display:inline-block;transform:scaleX(0.97);transform-origin:50% 50%;">94<span style="font-size:4px">%</span></span></div>
<div style="left:163.8px;top:408.2px;width:29.2px;height:5.6px;background:#96d5ee"></div>
<div style="left:178.4px;width:0;display:flex;justify-content:center;top:408.62px;font:bold 4.6px/5.52px 'Liberation Sans', sans-serif;color:#fff;white-space:nowrap;">3</div>
<div style="left:163.8px;top:413.8px;width:29.2px;height:7.5px;background:#c3cbd2"></div>
<div style="left:180.4px;width:0;display:flex;justify-content:center;top:415.03px;font:bold 5.8px/6.96px 'Liberation Sans', sans-serif;color:#fff;white-space:nowrap;"><span style="display:inline-block;transform:scaleX(0.97);transform-origin:50% 50%;">94<span style="font-size:4px">%</span></span></div>
<div style="left:193px;top:408.2px;width:28.9px;height:5.6px;background:#96d5ee"></div>
<div style="left:207.45px;width:0;display:flex;justify-content:center;top:408.62px;font:bold 4.6px/5.52px 'Liberation Sans', sans-serif;color:#fff;white-space:nowrap;">4</div>
<div style="left:193px;top:413.8px;width:28.9px;height:7.5px;background:#c3cbd2"></div>
<div style="left:209.45px;width:0;display:flex;justify-content:center;top:415.03px;font:bold 5.8px/6.96px 'Liberation Sans', sans-serif;color:#fff;white-space:nowrap;"><span style="display:inline-block;transform:scaleX(0.97);transform-origin:50% 50%;">99<span style="font-size:4px">%</span></span></div>
<div style="left:221.9px;top:408.2px;width:29.1px;height:5.6px;background:#96d5ee"></div>
<div style="left:236.45px;width:0;display:flex;justify-content:center;top:408.62px;font:bold 4.6px/5.52px 'Liberation Sans', sans-serif;color:#fff;white-space:nowrap;">5</div>
<div style="left:221.9px;top:413.8px;width:29.1px;height:7.5px;background:#c3cbd2"></div>
<div style="left:238.45px;width:0;display:flex;justify-content:center;top:415.03px;font:bold 5.8px/6.96px 'Liberation Sans', sans-serif;color:#fff;white-space:nowrap;"><span style="display:inline-block;transform:scaleX(0.97);transform-origin:50% 50%;">94<span style="font-size:4px">%</span></span></div>
<div style="left:251px;top:408.2px;width:29.1px;height:5.6px;background:#96d5ee"></div>
<div style="left:265.55px;width:0;display:flex;justify-content:center;top:408.62px;font:bold 4.6px/5.52px 'Liberation Sans', sans-serif;color:#fff;white-space:nowrap;">6</div>
<div style="left:251px;top:413.8px;width:29.1px;height:7.5px;background:#c3cbd2"></div>
<div style="left:267.55px;width:0;display:flex;justify-content:center;top:415.03px;font:bold 5.8px/6.96px 'Liberation Sans', sans-serif;color:#fff;white-space:nowrap;"><span style="display:inline-block;transform:scaleX(0.97);transform-origin:50% 50%;">99<span style="font-size:4px">%</span></span></div>
<div style="left:77.5px;top:422.3px;width:28.9px;height:5.6px;background:#96d5ee"></div>
<div style="left:91.95px;width:0;display:flex;justify-content:center;top:422.72px;font:bold 4.6px/5.52px 'Liberation Sans', sans-serif;color:#fff;white-space:nowrap;">7</div>
<div style="left:77.5px;top:427.9px;width:28.9px;height:7.5px;background:#c3cbd2"></div>
<div style="left:93.95px;width:0;display:flex;justify-content:center;top:429.13px;font:bold 5.8px/6.96px 'Liberation Sans', sans-serif;color:#fff;white-space:nowrap;"><span style="display:inline-block;transform:scaleX(0.97);transform-origin:50% 50%;">98<span style="font-size:4px">%</span></span></div>
<div style="left:106.4px;top:422.3px;width:28.5px;height:5.6px;background:#96d5ee"></div>
<div style="left:120.65px;width:0;display:flex;justify-content:center;top:422.72px;font:bold 4.6px/5.52px 'Liberation Sans', sans-serif;color:#fff;white-space:nowrap;">8</div>
<div style="left:106.4px;top:427.9px;width:28.5px;height:7.5px;background:#d4dbe2"></div>
<div style="left:134.9px;top:422.3px;width:28.9px;height:5.6px;background:#96d5ee"></div>
<div style="left:149.35px;width:0;display:flex;justify-content:center;top:422.72px;font:bold 4.6px/5.52px 'Liberation Sans', sans-serif;color:#fff;white-space:nowrap;">9</div>
<div style="left:134.9px;top:427.9px;width:28.9px;height:7.5px;background:#c3cbd2"></div>
<div style="left:151.35px;width:0;display:flex;justify-content:center;top:429.13px;font:bold 5.8px/6.96px 'Liberation Sans', sans-serif;color:#fff;white-space:nowrap;"><span style="display:inline-block;transform:scaleX(0.97);transform-origin:50% 50%;">98<span style="font-size:4px">%</span></span></div>
<div style="left:163.8px;top:422.3px;width:29.2px;height:5.6px;background:#96d5ee"></div>
<div style="left:178.4px;width:0;display:flex;justify-content:center;top:422.72px;font:bold 4.6px/5.52px 'Liberation Sans', sans-serif;color:#fff;white-space:nowrap;">10</div>
<div style="left:163.8px;top:427.9px;width:29.2px;height:7.5px;background:#c3cbd2"></div>
<div style="left:180.4px;width:0;display:flex;justify-content:center;top:429.13px;font:bold 5.8px/6.96px 'Liberation Sans', sans-serif;color:#fff;white-space:nowrap;"><span style="display:inline-block;transform:scaleX(0.97);transform-origin:50% 50%;">97<span style="font-size:4px">%</span></span></div>
<div style="left:193px;top:422.3px;width:28.9px;height:5.6px;background:#96d5ee"></div>
<div style="left:207.45px;width:0;display:flex;justify-content:center;top:422.72px;font:bold 4.6px/5.52px 'Liberation Sans', sans-serif;color:#fff;white-space:nowrap;">11</div>
<div style="left:193px;top:427.9px;width:28.9px;height:7.5px;background:#c3cbd2"></div>
<div style="left:209.45px;width:0;display:flex;justify-content:center;top:429.13px;font:bold 5.8px/6.96px 'Liberation Sans', sans-serif;color:#fff;white-space:nowrap;"><span style="display:inline-block;transform:scaleX(0.97);transform-origin:50% 50%;">97<span style="font-size:4px">%</span></span></div>
<div style="left:221.9px;top:422.3px;width:29.1px;height:5.6px;background:#96d5ee"></div>
<div style="left:236.45px;width:0;display:flex;justify-content:center;top:422.72px;font:bold 4.6px/5.52px 'Liberation Sans', sans-serif;color:#fff;white-space:nowrap;">12</div>
<div style="left:221.9px;top:427.9px;width:29.1px;height:7.5px;background:#c3cbd2"></div>
<div style="left:238.45px;width:0;display:flex;justify-content:center;top:429.13px;font:bold 5.8px/6.96px 'Liberation Sans', sans-serif;color:#fff;white-space:nowrap;"><span style="display:inline-block;transform:scaleX(0.97);transform-origin:50% 50%;">98<span style="font-size:4px">%</span></span></div>
<div style="left:251px;top:422.3px;width:29.1px;height:5.6px;background:#96d5ee"></div>
<div style="left:265.55px;width:0;display:flex;justify-content:center;top:422.72px;font:bold 4.6px/5.52px 'Liberation Sans', sans-serif;color:#fff;white-space:nowrap;">13</div>
<div style="left:251px;top:427.9px;width:29.1px;height:7.5px;background:#c3cbd2"></div>
<div style="left:267.55px;width:0;display:flex;justify-content:center;top:429.13px;font:bold 5.8px/6.96px 'Liberation Sans', sans-serif;color:#fff;white-space:nowrap;"><span style="display:inline-block;transform:scaleX(0.97);transform-origin:50% 50%;">97<span style="font-size:4px">%</span></span></div>
<div style="left:77.5px;top:436.4px;width:28.9px;height:5.6px;background:#96d5ee"></div>
<div style="left:91.95px;width:0;display:flex;justify-content:center;top:436.82px;font:bold 4.6px/5.52px 'Liberation Sans', sans-serif;color:#fff;white-space:nowrap;">14</div>
<div style="left:77.5px;top:442px;width:28.9px;height:7.5px;background:#c3cbd2"></div>
<div style="left:93.95px;width:0;display:flex;justify-content:center;top:443.23px;font:bold 5.8px/6.96px 'Liberation Sans', sans-serif;color:#fff;white-space:nowrap;"><span style="display:inline-block;transform:scaleX(0.97);transform-origin:50% 50%;">98<span style="font-size:4px">%</span></span></div>
<div style="left:106.4px;top:436.4px;width:28.5px;height:5.6px;background:#96d5ee"></div>
<div style="left:120.65px;width:0;display:flex;justify-content:center;top:436.82px;font:bold 4.6px/5.52px 'Liberation Sans', sans-serif;color:#fff;white-space:nowrap;">15</div>
<div style="left:106.4px;top:442px;width:28.5px;height:7.5px;background:#c3cbd2"></div>
<div style="left:122.65px;width:0;display:flex;justify-content:center;top:443.23px;font:bold 5.8px/6.96px 'Liberation Sans', sans-serif;color:#fff;white-space:nowrap;"><span style="display:inline-block;transform:scaleX(0.97);transform-origin:50% 50%;">96<span style="font-size:4px">%</span></span></div>
<div style="left:134.9px;top:436.4px;width:28.9px;height:5.6px;background:#96d5ee"></div>
<div style="left:149.35px;width:0;display:flex;justify-content:center;top:436.82px;font:bold 4.6px/5.52px 'Liberation Sans', sans-serif;color:#fff;white-space:nowrap;">16</div>
<div style="left:134.9px;top:442px;width:28.9px;height:7.5px;background:#d4dbe2"></div>
<div style="left:163.8px;top:436.4px;width:29.2px;height:5.6px;background:#96d5ee"></div>
<div style="left:178.4px;width:0;display:flex;justify-content:center;top:436.82px;font:bold 4.6px/5.52px 'Liberation Sans', sans-serif;color:#fff;white-space:nowrap;">17</div>
<div style="left:163.8px;top:442px;width:29.2px;height:7.5px;background:#c3cbd2"></div>
<div style="left:180.4px;width:0;display:flex;justify-content:center;top:443.23px;font:bold 5.8px/6.96px 'Liberation Sans', sans-serif;color:#fff;white-space:nowrap;"><span style="display:inline-block;transform:scaleX(0.97);transform-origin:50% 50%;">95<span style="font-size:4px">%</span></span></div>
<div style="left:193px;top:436.4px;width:28.9px;height:5.6px;background:#96d5ee"></div>
<div style="left:207.45px;width:0;display:flex;justify-content:center;top:436.82px;font:bold 4.6px/5.52px 'Liberation Sans', sans-serif;color:#fff;white-space:nowrap;">18</div>
<div style="left:193px;top:442px;width:28.9px;height:7.5px;background:#d4dbe2"></div>
<div style="left:221.9px;top:436.4px;width:29.1px;height:5.6px;background:#96d5ee"></div>
<div style="left:236.45px;width:0;display:flex;justify-content:center;top:436.82px;font:bold 4.6px/5.52px 'Liberation Sans', sans-serif;color:#fff;white-space:nowrap;">19</div>
<div style="left:221.9px;top:442px;width:29.1px;height:7.5px;background:#c3cbd2"></div>
<div style="left:238.45px;width:0;display:flex;justify-content:center;top:443.23px;font:bold 5.8px/6.96px 'Liberation Sans', sans-serif;color:#fff;white-space:nowrap;"><span style="display:inline-block;transform:scaleX(0.97);transform-origin:50% 50%;">96<span style="font-size:4px">%</span></span></div>
<div style="left:251px;top:436.4px;width:29.1px;height:5.6px;background:#96d5ee"></div>
<div style="left:265.55px;width:0;display:flex;justify-content:center;top:436.82px;font:bold 4.6px/5.52px 'Liberation Sans', sans-serif;color:#fff;white-space:nowrap;">20</div>
<div style="left:251px;top:442px;width:29.1px;height:7.5px;background:#c3cbd2"></div>
<div style="left:267.55px;width:0;display:flex;justify-content:center;top:443.23px;font:bold 5.8px/6.96px 'Liberation Sans', sans-serif;color:#fff;white-space:nowrap;"><span style="display:inline-block;transform:scaleX(0.97);transform-origin:50% 50%;">97<span style="font-size:4px">%</span></span></div>
<div style="left:77.5px;top:450.4px;width:28.9px;height:5.6px;background:#96d5ee"></div>
<div style="left:91.95px;width:0;display:flex;justify-content:center;top:450.82px;font:bold 4.6px/5.52px 'Liberation Sans', sans-serif;color:#fff;white-space:nowrap;">21</div>
<div style="left:77.5px;top:456px;width:28.9px;height:7.5px;background:#d4dbe2"></div>
<div style="left:106.4px;top:450.4px;width:28.5px;height:5.6px;background:#96d5ee"></div>
<div style="left:120.65px;width:0;display:flex;justify-content:center;top:450.82px;font:bold 4.6px/5.52px 'Liberation Sans', sans-serif;color:#fff;white-space:nowrap;">22</div>
<div style="left:106.4px;top:456px;width:28.5px;height:7.5px;background:#d4dbe2"></div>
<div style="left:134.9px;top:450.4px;width:28.9px;height:5.6px;background:#96d5ee"></div>
<div style="left:149.35px;width:0;display:flex;justify-content:center;top:450.82px;font:bold 4.6px/5.52px 'Liberation Sans', sans-serif;color:#fff;white-space:nowrap;">23</div>
<div style="left:134.9px;top:456px;width:28.9px;height:7.5px;background:#d4dbe2"></div>
<div style="left:163.8px;top:450.4px;width:29.2px;height:5.6px;background:#96d5ee"></div>
<div style="left:178.4px;width:0;display:flex;justify-content:center;top:450.82px;font:bold 4.6px/5.52px 'Liberation Sans', sans-serif;color:#fff;white-space:nowrap;">24</div>
<div style="left:163.8px;top:456px;width:29.2px;height:7.5px;background:#d4dbe2"></div>
<div style="left:193px;top:450.4px;width:28.9px;height:5.6px;background:#96d5ee"></div>
<div style="left:207.45px;width:0;display:flex;justify-content:center;top:450.82px;font:bold 4.6px/5.52px 'Liberation Sans', sans-serif;color:#fff;white-space:nowrap;">25</div>
<div style="left:193px;top:456px;width:28.9px;height:7.5px;background:#d4dbe2"></div>
<div style="left:221.9px;top:450.4px;width:29.1px;height:5.6px;background:#96d5ee"></div>
<div style="left:236.45px;width:0;display:flex;justify-content:center;top:450.82px;font:bold 4.6px/5.52px 'Liberation Sans', sans-serif;color:#fff;white-space:nowrap;">26</div>
<div style="left:221.9px;top:456px;width:29.1px;height:7.5px;background:#c3cbd2"></div>
<div style="left:238.45px;width:0;display:flex;justify-content:center;top:457.23px;font:bold 5.8px/6.96px 'Liberation Sans', sans-serif;color:#fff;white-space:nowrap;"><span style="display:inline-block;transform:scaleX(0.97);transform-origin:50% 50%;">99<span style="font-size:4px">%</span></span></div>
<div style="left:251px;top:450.4px;width:29.1px;height:5.6px;background:#96d5ee"></div>
<div style="left:265.55px;width:0;display:flex;justify-content:center;top:450.82px;font:bold 4.6px/5.52px 'Liberation Sans', sans-serif;color:#fff;white-space:nowrap;">27</div>
<div style="left:251px;top:456px;width:29.1px;height:7.5px;background:#d4dbe2"></div>
<div style="left:77.5px;top:464.2px;width:28.9px;height:5.6px;background:#96d5ee"></div>
<div style="left:91.95px;width:0;display:flex;justify-content:center;top:464.62px;font:bold 4.6px/5.52px 'Liberation Sans', sans-serif;color:#fff;white-space:nowrap;">28</div>
<div style="left:77.5px;top:469.8px;width:28.9px;height:7.5px;background:#d4dbe2"></div>
<div style="left:106.4px;top:464.2px;width:28.5px;height:5.6px;background:#96d5ee"></div>
<div style="left:120.65px;width:0;display:flex;justify-content:center;top:464.62px;font:bold 4.6px/5.52px 'Liberation Sans', sans-serif;color:#fff;white-space:nowrap;">29</div>
<div style="left:106.4px;top:469.8px;width:28.5px;height:7.5px;background:#d4dbe2"></div>
<div style="left:134.9px;top:464.2px;width:28.9px;height:5.6px;background:#96d5ee"></div>
<div style="left:149.35px;width:0;display:flex;justify-content:center;top:464.62px;font:bold 4.6px/5.52px 'Liberation Sans', sans-serif;color:#fff;white-space:nowrap;">30</div>
<div style="left:134.9px;top:469.8px;width:28.9px;height:7.5px;background:#c3cbd2"></div>
<div style="left:151.35px;width:0;display:flex;justify-content:center;top:471.03px;font:bold 5.8px/6.96px 'Liberation Sans', sans-serif;color:#fff;white-space:nowrap;"><span style="display:inline-block;transform:scaleX(0.97);transform-origin:50% 50%;">95<span style="font-size:4px">%</span></span></div>
<div style="left:163.8px;top:464.2px;width:29.2px;height:5.6px;background:#96d5ee"></div>
<div style="left:178.4px;width:0;display:flex;justify-content:center;top:464.62px;font:bold 4.6px/5.52px 'Liberation Sans', sans-serif;color:#fff;white-space:nowrap;">31</div>
<div style="left:163.8px;top:469.8px;width:29.2px;height:7.5px;background:#c3cbd2"></div>
<div style="left:180.4px;width:0;display:flex;justify-content:center;top:471.03px;font:bold 5.8px/6.96px 'Liberation Sans', sans-serif;color:#fff;white-space:nowrap;"><span style="display:inline-block;transform:scaleX(0.97);transform-origin:50% 50%;">97<span style="font-size:4px">%</span></span></div>
<div style="left:193px;top:464.2px;width:28.9px;height:5.6px;background:#96d5ee"></div>
<div style="left:221.9px;top:464.2px;width:29.1px;height:5.6px;background:#96d5ee"></div>
<div style="left:251px;top:464.2px;width:29.1px;height:5.6px;background:#96d5ee"></div>
<div style="left:134.4px;top:408px;width:1px;height:69.5px;background:#fff"></div>
<div style="left:221.4px;top:408px;width:1px;height:69.5px;background:#fff"></div>
</div>
<div class="pg" style="left:38px;top:106px;width:368px;height:515px;z-index:9">
<div style="left:11px;top:8.5px;width:348px;height:97.1px;background:#3e7eb6"></div>
<svg style="position:absolute;left:11px;top:8.5px;overflow:hidden;" width="348" height="97.1" viewBox="49 114.5 348 97.1"><circle cx="61.5" cy="129.5" r="21.2" fill="none" stroke="#9cc8ea" stroke-width="0.7" stroke-dasharray="1.3 0.9"/><g fill="none" stroke="#a6d3f2" stroke-width="1" stroke-linecap="round"><path d="M72,129.4 A10.5,10.5 0 1,0 67.06,138.3"/><circle cx="61.5" cy="129.1" r="4.2"/><path d="M65.6,125 V130.6 C65.6,133.6 69,134 70.7,132.6 C71.7,131.7 72,130.4 72,129.4"/></g><line x1="82.7" y1="132.6" x2="131.9" y2="148.4" stroke="#8fbbe0" stroke-width="0.6"/><line x1="82.7" y1="132.6" x2="101.2" y2="171" stroke="#8fbbe0" stroke-width="0.6"/><line x1="151.7" y1="123" x2="155.3" y2="114" stroke="#8fbbe0" stroke-width="0.6"/><line x1="131.9" y1="148.4" x2="101.2" y2="171" stroke="#8fbbe0" stroke-width="0.6"/><line x1="85.8" y1="194.4" x2="48" y2="212" stroke="#8fbbe0" stroke-width="0.6"/><circle cx="143.6" cy="137.6" r="15.3" fill="none" stroke="#9cc8ea" stroke-width="0.7" stroke-dasharray="1.3 0.9"/><g fill="none" stroke="#2c5e8e" stroke-width="0.8"><rect x="135.5" y="139" width="16" height="5" rx="0.8"/><rect x="137.5" y="140.3" width="3" height="2.3"/><rect x="142" y="140.3" width="3" height="2.3"/><rect x="146" y="140.3" width="3" height="2.3"/><line x1="143.5" y1="133" x2="143.5" y2="139"/><path d="M140.5,131.5 a4,4 0 0,1 6,0"/><path d="M138.8,129.5 a6.5,6.5 0 0,1 9.4,0"/></g><circle cx="100.6" cy="187.2" r="16.2" fill="none" stroke="#9cc8ea" stroke-width="0.7" stroke-dasharray="1.3 0.9"/><g fill="none" stroke="#a6d3f2" stroke-width="0.8"><path d="M96,179 c-5,5 -7,9 -4,13 c2,2 6,2 8,0 c2,-3 0,-6 -1,-8 c0,3 -2,4 -2,4 c1,-3 0,-6 -1,-9z"/><path d="M101,183 h6 v3 h-6 M103,186 h6 v3 h-6 M101,189 h6 v3 h-6"/></g><line x1="283.4" y1="149.3" x2="312.3" y2="137.6" stroke="#8fbbe0" stroke-width="0.6"/><circle cx="326.7" cy="134" r="14.4" fill="none" stroke="#9cc8ea" stroke-width="0.7" stroke-dasharray="1.3 0.9"/><g fill="none" stroke="#a6d3f2" stroke-width="1.17"><rect x="320.85" y="124.44" width="11.7" height="3.9" rx="0.65"/><rect x="320.85" y="128.34" width="11.7" height="3.9" rx="0.65"/><rect x="320.85" y="132.24" width="11.7" height="3.9" rx="0.65"/><line x1="326.7" y1="136.14" x2="326.7" y2="139"/><line x1="318.9" y1="139.65" x2="334.5" y2="139.65"/></g><circle cx="326.7" cy="139.65" r="1.56" fill="#a6d3f2"/><line x1="340.2" y1="140.3" x2="354.7" y2="149.3" stroke="#8fbbe0" stroke-width="0.6"/><circle cx="374.5" cy="158.3" r="21.7" fill="none" stroke="#9cc8ea" stroke-width="0.7" stroke-dasharray="1.3 0.9"/><g fill="none" stroke="#a6d3f2" stroke-width="0.85"><rect x="371" y="141" width="7" height="13" rx="0.9"/><rect x="372.5" y="142.5" width="4" height="5"/><line x1="373" y1="151.5" x2="376" y2="151.5"/></g><g fill="none" stroke="#a6d3f2" stroke-width="0.85"><rect x="359.8" y="149.3" width="7" height="13" rx="0.9"/><rect x="361.3" y="150.8" width="4" height="5"/><line x1="361.8" y1="159.8" x2="364.8" y2="159.8"/></g><g fill="none" stroke="#a6d3f2" stroke-width="0.85"><rect x="382.1" y="149.3" width="7" height="13" rx="0.9"/><rect x="383.6" y="150.8" width="4" height="5"/><line x1="384.1" y1="159.8" x2="387.1" y2="159.8"/></g><g fill="none" stroke="#a6d3f2" stroke-width="0.85"><rect x="371" y="160" width="7" height="13" rx="0.9"/><rect x="372.5" y="161.5" width="4" height="5"/><line x1="373" y1="170.5" x2="376" y2="170.5"/></g><line x1="384.5" y1="136.7" x2="398" y2="123" stroke="#8fbbe0" stroke-width="0.6"/><line x1="367.3" y1="180" x2="363.7" y2="186.3" stroke="#8fbbe0" stroke-width="0.6"/><circle cx="358.6" cy="195.4" r="9.9" fill="none" stroke="#9cc8ea" stroke-width="0.7" stroke-dasharray="1.3 0.9"/><g fill="none" stroke="#2c5e8e" stroke-width="1.17"><circle cx="355.9" cy="192.7" r="1.53"/><circle cx="361.3" cy="198.1" r="1.53"/><line x1="362.65" y1="190.9" x2="354.55" y2="199.9"/></g><line x1="369.1" y1="198" x2="398" y2="210" stroke="#8fbbe0" stroke-width="0.6"/></svg>
<svg style="position:absolute;left:143px;top:8px;overflow:hidden;" width="88.8" height="39" viewBox="181 114 88.8 39"><polygon points="182,114 268.8,114 268.8,140 225.4,152 182,140" fill="#fff"/></svg>
<svg style="position:absolute;left:152px;top:13.3px;" width="13" height="13" viewBox="0 0 13 12.6"><defs><linearGradient id="lg1_3" x1="0" y1="0" x2="0" y2="1"><stop offset="0" stop-color="#8cc63f"/><stop offset="0.35" stop-color="#3fb07a"/><stop offset="0.6" stop-color="#1e9be0"/><stop offset="0.85" stop-color="#1c3fb0"/><stop offset="1" stop-color="#1d1a8a"/></linearGradient></defs><path d="M11.2,2 L6.2,2 L2,6.3 L6.2,10.6 L11.2,10.6" fill="none" stroke="url(#lg1_3)" stroke-width="3.4" stroke-linejoin="round" stroke-linecap="round"/></svg>
<div style="left:169.5px;top:12.09px;font:normal 9.8px/11.76px 'Liberation Sans', sans-serif;color:#2d3540;white-space:nowrap;transform:scaleX(1.17);transform-origin:0 50%;">centreon</div>
<div style="left:169.5px;top:21.13px;font:normal 5.8px/6.96px 'Liberation Sans', sans-serif;color:#7db536;white-space:nowrap;transform:scaleX(0.98);transform-origin:0 50%;-webkit-text-stroke:0.15px #7db536">business intelligence</div>
<div style="left:188.5px;width:0;display:flex;justify-content:center;top:52.14px;font:bold 13px/15.6px 'Liberation Sans', sans-serif;color:#fff;white-space:nowrap;"><span style="display:inline-block;transform:scaleX(0.99);transform-origin:50% 50%;">DISPONIBILIT&Eacute;</span></div>
<div style="left:187.9px;width:0;display:flex;justify-content:center;top:68.66px;font:bold 7.4px/8.88px 'Liberation Sans', sans-serif;color:#a9dcf3;white-space:nowrap;"><span style="display:inline-block;transform:scaleX(1.09);transform-origin:50% 50%;">de votre vue m&eacute;tier</span></div>
<div style="left:188.2px;width:0;display:flex;justify-content:center;top:80.36px;font:bold 7.4px/8.88px 'Liberation Sans', sans-serif;color:#a9dcf3;white-space:nowrap;"><span style="display:inline-block;transform:scaleX(1.07);transform-origin:50% 50%;">BA-DB-ORACLE-VIEW</span></div>
<div style="left:188px;width:0;display:flex;justify-content:center;top:91.55px;font:bold 7px/8.4px 'Liberation Sans', sans-serif;color:#fff;white-space:nowrap;"><span style="display:inline-block;transform:scaleX(1.05);transform-origin:50% 50%;">01/03/16 - 01/04/16</span></div>
<div style="left:11px;top:108.8px;width:347px;height:12.5px;background:#3e7eb6"></div>
<div style="left:184.8px;width:0;display:flex;justify-content:center;top:110.41px;font:bold 9.3px/11.16px 'Liberation Sans', sans-serif;color:#fff;white-space:nowrap;"><span style="display:inline-block;transform:scaleX(0.96);transform-origin:50% 50%;">FOCUS SUR LA DISPONIBILIT&Eacute; DES APPLICATIONS</span></div>
<div style="left:13.3px;top:125.51px;font:bold 4.2px/5.04px 'Liberation Sans', sans-serif;color:#2f64a0;white-space:nowrap;transform:scaleX(0.97);transform-origin:0 50%;">Global DB Oracle Int...</div>
<div style="left:11.5px;top:131.3px;width:60px;height:1.1px;background:#5a5a5a"></div>
<svg style="position:absolute;left:11.5px;top:135.2px;" width="14" height="14" viewBox="0 0 14 14"><circle cx="7" cy="7" r="6.9" fill="#96d5ee"/><line x1="7" y1="7" x2="3.6" y2="2.2" stroke="#2a5a8a" stroke-width="0.7"/></svg>
<div style="left:29.1px;top:136.58px;font:bold 10.7px/12.84px 'Liberation Sans', sans-serif;color:#2f6aa6;white-space:nowrap;transform:scaleX(1.03);transform-origin:0 50%;">94,69<span style="font-size:7.5px">%</span></div>
<div style="left:81.5px;top:125.51px;font:bold 4.2px/5.04px 'Liberation Sans', sans-serif;color:#2f64a0;white-space:nowrap;transform:scaleX(1.09);transform-origin:0 50%;">DB-Oracle-Users</div>
<div style="left:79.7px;top:131.3px;width:60px;height:1.1px;background:#5a5a5a"></div>
<svg style="position:absolute;left:79.7px;top:135.2px;" width="14" height="14" viewBox="0 0 14 14"><circle cx="7" cy="7" r="6.9" fill="#96d5ee"/><line x1="7" y1="7" x2="3.6" y2="2.2" stroke="#2a5a8a" stroke-width="0.7"/></svg>
<div style="left:97.3px;top:136.58px;font:bold 10.7px/12.84px 'Liberation Sans', sans-serif;color:#2f6aa6;white-space:nowrap;transform:scaleX(1.03);transform-origin:0 50%;">98,07<span style="font-size:7.5px">%</span></div>
<div style="left:149.7px;top:125.51px;font:bold 4.2px/5.04px 'Liberation Sans', sans-serif;color:#2f64a0;white-space:nowrap;transform:scaleX(1);transform-origin:0 50%;">DB-Oracle-CRM</div>
<div style="left:147.9px;top:131.3px;width:60px;height:1.1px;background:#5a5a5a"></div>
<svg style="position:absolute;left:147.9px;top:135.2px;" width="14" height="14" viewBox="0 0 14 14"><circle cx="7" cy="7" r="6.9" fill="#96d5ee"/><line x1="7" y1="7" x2="3.6" y2="2.2" stroke="#2a5a8a" stroke-width="0.7"/></svg>
<div style="left:165.5px;top:136.58px;font:bold 10.7px/12.84px 'Liberation Sans', sans-serif;color:#2f6aa6;white-space:nowrap;transform:scaleX(1.03);transform-origin:0 50%;">98,34<span style="font-size:7.5px">%</span></div>
<div style="left:217.9px;top:125.51px;font:bold 4.2px/5.04px 'Liberation Sans', sans-serif;color:#2f64a0;white-space:nowrap;transform:scaleX(1.03);transform-origin:0 50%;">DB-Oracle-Accounting...</div>
<div style="left:216.1px;top:131.3px;width:60px;height:1.1px;background:#5a5a5a"></div>
<svg style="position:absolute;left:216.1px;top:135.2px;" width="14" height="14" viewBox="0 0 14 14"><circle cx="7" cy="7" r="6.9" fill="#96d5ee"/><line x1="7" y1="7" x2="3.6" y2="2.2" stroke="#2a5a8a" stroke-width="0.7"/></svg>
<div style="left:233.7px;top:136.58px;font:bold 10.7px/12.84px 'Liberation Sans', sans-serif;color:#2f6aa6;white-space:nowrap;transform:scaleX(1.03);transform-origin:0 50%;">98,35<span style="font-size:7.5px">%</span></div>
<div style="left:12px;top:159.16px;font:normal 4px/4.8px 'Liberation Sans', sans-serif;color:#5cb8e6;white-space:nowrap;transform:scaleX(1.06);transform-origin:0 50%;">Les applications sont tri&eacute;es par disponibilit&eacute; d&eacute;croissante. Les applications avec un taux de disponibilit&eacute; de 100% sont affich&eacute;es par ordre alphab&eacute;tique.</div>
<div style="left:11px;top:167.5px;width:347px;height:12.3px;background:#3e7eb6"></div>
<div style="left:184.8px;width:0;display:flex;justify-content:center;top:168.81px;font:bold 9.3px/11.16px 'Liberation Sans', sans-serif;color:#fff;white-space:nowrap;"><span style="display:inline-block;transform:scaleX(0.96);transform-origin:50% 50%;">FOCUS SUR LE TEMPS D&#39;INDISPONIBILIT&Eacute; ET PANNES</span></div>
<svg style="position:absolute;left:19.5px;top:188.3px;" width="20.5" height="16" viewBox="0 0 20.5 16"><g fill="none" stroke="#f4a52a" stroke-width="0.9" stroke-linecap="round"><path d="M9.6,6.6 A3.6,3.6 0 1,0 6.5,11.6"/><line x1="6.1" y1="1.6" x2="6.1" y2="3.0"/><line x1="0.9" y1="8.3" x2="2.3" y2="8.3"/><line x1="2.4" y1="4.6" x2="3.4" y2="5.6"/><line x1="9.8" y1="4.6" x2="8.8" y2="5.6"/><line x1="2.4" y1="12" x2="3.4" y2="11"/></g><path d="M9.6,15.4 h8.2 a2.5,2.5 0 0,0 0.4,-5 a4.6,4.6 0 0,0 -8.8,-1.2 a3.1,3.1 0 0,0 0.2,6.2z" fill="none" stroke="#4ab3e2" stroke-width="1"/></svg>
<div style="left:49.9px;top:187.41px;font:bold 4.2px/5.04px 'Liberation Sans', sans-serif;color:#2f64a0;white-space:nowrap;transform:scaleX(1);transform-origin:0 50%;">1. Global DB Oracle Integrity</div>
<div style="left:50.9px;top:195.47px;font:bold 8.2px/9.84px 'Liberation Sans', sans-serif;color:#2b5c90;white-space:nowrap;transform:scaleX(0.98);transform-origin:0 50%;">38 h 20 min</div>
<div style="right:249.3px;top:195.47px;font:normal 8.2px/9.84px 'Liberation Sans', sans-serif;color:#8bd0f0;white-space:nowrap;transform:scaleX(0.87);transform-origin:100% 50%;">108</div>
<div style="left:121px;top:198.76px;font:normal 4px/4.8px 'Liberation Sans', sans-serif;color:#8bd0f0;white-space:nowrap;transform:scaleX(1.22);transform-origin:0 50%;">pannes</div>
<div style="left:12.2px;top:205.7px;width:154.5px;height:1.2px;background:#d2d2d2"></div>
<svg style="position:absolute;left:19.5px;top:207.4px;" width="20.5" height="16" viewBox="0 0 20.5 16"><g fill="none" stroke="#f4a52a" stroke-width="0.9" stroke-linecap="round"><path d="M9.6,6.6 A3.6,3.6 0 1,0 6.5,11.6"/><line x1="6.1" y1="1.6" x2="6.1" y2="3.0"/><line x1="0.9" y1="8.3" x2="2.3" y2="8.3"/><line x1="2.4" y1="4.6" x2="3.4" y2="5.6"/><line x1="9.8" y1="4.6" x2="8.8" y2="5.6"/><line x1="2.4" y1="12" x2="3.4" y2="11"/></g><path d="M9.6,15.4 h8.2 a2.5,2.5 0 0,0 0.4,-5 a4.6,4.6 0 0,0 -8.8,-1.2 a3.1,3.1 0 0,0 0.2,6.2z" fill="none" stroke="#4ab3e2" stroke-width="1"/></svg>
<div style="left:49.9px;top:206.51px;font:bold 4.2px/5.04px 'Liberation Sans', sans-serif;color:#2f64a0;white-space:nowrap;transform:scaleX(1.03);transform-origin:0 50%;">2. DB-Oracle-Users</div>
<div style="left:50.9px;top:214.57px;font:bold 8.2px/9.84px 'Liberation Sans', sans-serif;color:#2b5c90;white-space:nowrap;transform:scaleX(0.92);transform-origin:0 50%;">13 h 55 min</div>
<div style="right:249.3px;top:214.57px;font:normal 8.2px/9.84px 'Liberation Sans', sans-serif;color:#8bd0f0;white-space:nowrap;transform:scaleX(0.86);transform-origin:100% 50%;">37</div>
<div style="left:121px;top:217.86px;font:normal 4px/4.8px 'Liberation Sans', sans-serif;color:#8bd0f0;white-space:nowrap;transform:scaleX(1.22);transform-origin:0 50%;">pannes</div>
<div style="left:12.2px;top:224.8px;width:154.5px;height:1.2px;background:#d2d2d2"></div>
<svg style="position:absolute;left:19.5px;top:226.5px;" width="20.5" height="16" viewBox="0 0 20.5 16"><g fill="none" stroke="#f4a52a" stroke-width="0.9" stroke-linecap="round"><path d="M9.6,6.6 A3.6,3.6 0 1,0 6.5,11.6"/><line x1="6.1" y1="1.6" x2="6.1" y2="3.0"/><line x1="0.9" y1="8.3" x2="2.3" y2="8.3"/><line x1="2.4" y1="4.6" x2="3.4" y2="5.6"/><line x1="9.8" y1="4.6" x2="8.8" y2="5.6"/><line x1="2.4" y1="12" x2="3.4" y2="11"/></g><path d="M9.6,15.4 h8.2 a2.5,2.5 0 0,0 0.4,-5 a4.6,4.6 0 0,0 -8.8,-1.2 a3.1,3.1 0 0,0 0.2,6.2z" fill="none" stroke="#4ab3e2" stroke-width="1"/></svg>
<div style="left:49.9px;top:225.61px;font:bold 4.2px/5.04px 'Liberation Sans', sans-serif;color:#2f64a0;white-space:nowrap;transform:scaleX(0.97);transform-origin:0 50%;">3. DB-Oracle-CRM</div>
<div style="left:50.9px;top:233.67px;font:bold 8.2px/9.84px 'Liberation Sans', sans-serif;color:#2b5c90;white-space:nowrap;transform:scaleX(0.95);transform-origin:0 50%;">12 h 20 min</div>
<div style="right:249.3px;top:233.67px;font:normal 8.2px/9.84px 'Liberation Sans', sans-serif;color:#8bd0f0;white-space:nowrap;transform:scaleX(0.86);transform-origin:100% 50%;">38</div>
<div style="left:121px;top:236.96px;font:normal 4px/4.8px 'Liberation Sans', sans-serif;color:#8bd0f0;white-space:nowrap;transform:scaleX(1.22);transform-origin:0 50%;">pannes</div>
<div style="left:12.2px;top:243.9px;width:154.5px;height:1.2px;background:#d2d2d2"></div>
<svg style="position:absolute;left:19.5px;top:245.6px;" width="20.5" height="16" viewBox="0 0 20.5 16"><g fill="none" stroke="#f4a52a" stroke-width="0.9" stroke-linecap="round"><path d="M9.6,6.6 A3.6,3.6 0 1,0 6.5,11.6"/><line x1="6.1" y1="1.6" x2="6.1" y2="3.0"/><line x1="0.9" y1="8.3" x2="2.3" y2="8.3"/><line x1="2.4" y1="4.6" x2="3.4" y2="5.6"/><line x1="9.8" y1="4.6" x2="8.8" y2="5.6"/><line x1="2.4" y1="12" x2="3.4" y2="11"/></g><path d="M9.6,15.4 h8.2 a2.5,2.5 0 0,0 0.4,-5 a4.6,4.6 0 0,0 -8.8,-1.2 a3.1,3.1 0 0,0 0.2,6.2z" fill="none" stroke="#4ab3e2" stroke-width="1"/></svg>
<div style="left:49.9px;top:244.71px;font:bold 4.2px/5.04px 'Liberation Sans', sans-serif;color:#2f64a0;white-space:nowrap;transform:scaleX(0.96);transform-origin:0 50%;">4. DB-Oracle-Accounting</div>
<div style="left:50.9px;top:252.77px;font:bold 8.2px/9.84px 'Liberation Sans', sans-serif;color:#2b5c90;white-space:nowrap;transform:scaleX(0.9);transform-origin:0 50%;">12 h 15 min</div>
<div style="right:249.3px;top:252.77px;font:normal 8.2px/9.84px 'Liberation Sans', sans-serif;color:#8bd0f0;white-space:nowrap;transform:scaleX(0.86);transform-origin:100% 50%;">34</div>
<div style="left:121px;top:256.06px;font:normal 4px/4.8px 'Liberation Sans', sans-serif;color:#8bd0f0;white-space:nowrap;transform:scaleX(1.22);transform-origin:0 50%;">pannes</div>
<div style="left:12.2px;top:263px;width:154.5px;height:1.2px;background:#d2d2d2"></div>
<div style="left:48.1px;top:185.7px;width:0.9px;height:78.1px;background:#3a5f85"></div>
<div style="left:12px;top:266.76px;font:normal 4px/4.8px 'Liberation Sans', sans-serif;color:#5cb8e6;white-space:nowrap;transform:scaleX(1.08);transform-origin:0 50%;">Les applications sont tri&eacute;es par temps d&#39;indisponibilit&eacute; d&eacute;croissante. Les applications n&#39;ayant aucune indisponibilit&eacute; sont affich&eacute;es par ordre alphab&eacute;tique.</div>
<div style="left:11px;top:274.7px;width:347px;height:14.1px;background:#3e7eb6"></div>
<div style="left:184.8px;width:0;display:flex;justify-content:center;top:276.41px;font:bold 9.3px/11.16px 'Liberation Sans', sans-serif;color:#fff;white-space:nowrap;"><span style="display:inline-block;transform:scaleX(0.85);transform-origin:50% 50%;">PERFORMANCE</span></div>
<div style="left:11px;top:292px;width:347px;height:153.7px;background:#e8e9eb"></div>
<div style="left:152.5px;top:292px;width:62.9px;height:53.5px;background:#96d5ee"></div>
<svg style="position:absolute;left:169.7px;top:303.4px;" width="30" height="30" viewBox="0 0 30 30"><ellipse cx="15" cy="25.8" rx="10.5" ry="4.6" fill="#1b8cc4"/><circle cx="15" cy="14.5" r="14.3" fill="#fff"/><circle cx="15" cy="14.5" r="11.4" fill="#e8ecef"/><path d="M15,14.5 V3.1 A11.4,11.4 0 0,1 26.4,14.5 Z" fill="#96d5ee"/><g stroke="#555" stroke-width="0.7"><line x1="15" y1="5.1" x2="15" y2="4"/><line x1="19.7" y1="6.36" x2="20.25" y2="5.41"/><line x1="23.14" y1="9.8" x2="24.09" y2="9.25"/><line x1="24.4" y1="14.5" x2="25.5" y2="14.5"/><line x1="23.14" y1="19.2" x2="24.09" y2="19.75"/><line x1="19.7" y1="22.64" x2="20.25" y2="23.59"/><line x1="15" y1="23.9" x2="15" y2="25"/><line x1="10.3" y1="22.64" x2="9.75" y2="23.59"/><line x1="6.86" y1="19.2" x2="5.91" y2="19.75"/><line x1="5.6" y1="14.5" x2="4.5" y2="14.5"/><line x1="6.86" y1="9.8" x2="5.91" y2="9.25"/><line x1="10.3" y1="6.36" x2="9.75" y2="5.41"/></g><line x1="15" y1="14.5" x2="15" y2="5.5" stroke="#2a6aa0" stroke-width="0.8"/><line x1="15" y1="14.5" x2="22" y2="14.5" stroke="#2a6aa0" stroke-width="0.8"/></svg>
<div style="left:15.7px;top:292.84px;font:bold 9.6px/11.52px 'Liberation Sans', sans-serif;color:#3b79b5;white-space:nowrap;transform:scaleX(0.96);transform-origin:0 50%;">Fiabilit&eacute;</div>
<div style="left:220.8px;top:292.84px;font:bold 9.6px/11.52px 'Liberation Sans', sans-serif;color:#3b79b5;white-space:nowrap;transform:scaleX(0.99);transform-origin:0 50%;">Maintenabilit&eacute;</div>
<div style="left:15.8px;top:309.31px;font:bold 4.2px/5.04px 'Liberation Sans', sans-serif;color:#2f6aa6;white-space:nowrap;transform:scaleX(1.08);transform-origin:0 50%;"><span style="color:#2b5c90">ou</span> MEAN TIME BETWEEN FAILURE (MTBF)</div>
<div style="left:220.8px;top:309.31px;font:bold 4.2px/5.04px 'Liberation Sans', sans-serif;color:#2f6aa6;white-space:nowrap;transform:scaleX(1.08);transform-origin:0 50%;"><span style="color:#2b5c90">ou</span> MEAN TIME TO REPAIR SERVICE (MTRS)</div>
<div style="left:15.5px;top:315.82px;font:bold 4.6px/5.52px 'Liberation Serif', serif;color:#111;white-space:nowrap;transform:scaleX(0.92);transform-origin:0 50%;font-style:italic">Il s&#39;agit du temps moyen entre le d&eacute;clenchement des pannes. La mesure de</div>
<div style="left:220.5px;top:315.82px;font:bold 4.6px/5.52px 'Liberation Serif', serif;color:#111;white-space:nowrap;transform:scaleX(0.94);transform-origin:0 50%;font-style:italic">Il s&#39;agit du temps moyen de r&eacute;paration des pannes. La mesure de cet</div>
<div style="left:15.5px;top:320.89px;font:bold 4.6px/5.52px 'Liberation Serif', serif;color:#111;white-space:nowrap;transform:scaleX(0.9);transform-origin:0 50%;font-style:italic">cet indicateur permet d&#39;analyser la r&eacute;currence des pannes sur les</div>
<div style="left:220.5px;top:320.89px;font:bold 4.6px/5.52px 'Liberation Serif', serif;color:#111;white-space:nowrap;transform:scaleX(0.92);transform-origin:0 50%;font-style:italic">indicateur permet d&#39;analyser les d&eacute;lais de r&eacute;tablissement du service suite &agrave;</div>
<div style="left:15.5px;top:325.96px;font:bold 4.6px/5.52px 'Liberation Serif', serif;color:#111;white-space:nowrap;transform:scaleX(0.94);transform-origin:0 50%;font-style:italic">applications. Si l&#39;application n&#39;est pas du tout disponible ou ne pr&eacute;sente</div>
<div style="left:220.5px;top:325.96px;font:bold 4.6px/5.52px 'Liberation Serif', serif;color:#111;white-space:nowrap;transform:scaleX(0.9);transform-origin:0 50%;font-style:italic">une panne. Si l&#39;application ne pr&eacute;sente aucune panne, le MTRS ne peut &ecirc;tre</div>
<div style="left:15.5px;top:331.03px;font:bold 4.6px/5.52px 'Liberation Serif', serif;color:#111;white-space:nowrap;transform:scaleX(0.91);transform-origin:0 50%;font-style:italic">aucune alerte, le MTBF ne peut &ecirc;tre calcul&eacute;.</div>
<div style="left:220.5px;top:331.03px;font:bold 4.6px/5.52px 'Liberation Serif', serif;color:#111;white-space:nowrap;transform:scaleX(0.92);transform-origin:0 50%;font-style:italic">calcul&eacute;.</div>
<div style="left:184px;top:346px;width:1.6px;height:99.7px;background:#2a62a0"></div>
<div style="left:85.2px;top:350.7px;width:4.8px;height:20.3px;background:#96d5ee"></div>
<div style="right:288px;top:358.36px;font:bold 4.2px/5.04px 'Liberation Sans', sans-serif;color:#2b5c90;white-space:nowrap;transform:scaleX(1.09);transform-origin:100% 50%;">Global DB Oracle Integrity</div>
<div style="left:92.2px;top:358.36px;font:normal 4.2px/5.04px 'Liberation Sans', sans-serif;color:#3b79b5;white-space:nowrap;transform:scaleX(1.17);transform-origin:0 50%;">6 h 20 min</div>
<div style="left:259.3px;top:350.7px;width:78.4px;height:20.3px;background:#96d5ee"></div>
<div style="right:114px;top:358.36px;font:bold 4.2px/5.04px 'Liberation Sans', sans-serif;color:#2b5c90;white-space:nowrap;transform:scaleX(1.1);transform-origin:100% 50%;">DB-Oracle-Users</div>
<div style="right:15.2px;top:358.36px;font:normal 4.2px/5.04px 'Liberation Sans', sans-serif;color:#3b79b5;white-space:nowrap;transform:scaleX(1.11);transform-origin:100% 50%;">22 min 34 sec</div>
<div style="left:85.2px;top:373.3px;width:75.7px;height:20.3px;background:#96d5ee"></div>
<div style="right:288px;top:380.96px;font:bold 4.2px/5.04px 'Liberation Sans', sans-serif;color:#2b5c90;white-space:nowrap;transform:scaleX(1.1);transform-origin:100% 50%;">DB-Oracle-Users</div>
<div style="right:189.5px;top:380.96px;font:normal 4.2px/5.04px 'Liberation Sans', sans-serif;color:#3b79b5;white-space:nowrap;transform:scaleX(1.12);transform-origin:100% 50%;">19 h 9 min</div>
<div style="left:259.3px;top:373.3px;width:60.7px;height:20.3px;background:#96d5ee"></div>
<div style="right:114px;top:380.96px;font:bold 4.2px/5.04px 'Liberation Sans', sans-serif;color:#2b5c90;white-space:nowrap;transform:scaleX(1.11);transform-origin:100% 50%;">DB-Oracle-Accounting</div>
<div style="left:322px;top:380.96px;font:normal 4.2px/5.04px 'Liberation Sans', sans-serif;color:#3b79b5;white-space:nowrap;transform:scaleX(1.07);transform-origin:0 50%;">21 min 37 sec</div>
<div style="left:85.2px;top:395.9px;width:75.7px;height:20.3px;background:#96d5ee"></div>
<div style="right:288px;top:403.56px;font:bold 4.2px/5.04px 'Liberation Sans', sans-serif;color:#2b5c90;white-space:nowrap;transform:scaleX(1.12);transform-origin:100% 50%;">DB-Oracle-CRM</div>
<div style="right:189.5px;top:403.56px;font:normal 4.2px/5.04px 'Liberation Sans', sans-serif;color:#3b79b5;white-space:nowrap;transform:scaleX(1);transform-origin:100% 50%;">19 h 13 min</div>
<div style="left:259.3px;top:395.9px;width:54.7px;height:20.3px;background:#96d5ee"></div>
<div style="right:114px;top:403.56px;font:bold 4.2px/5.04px 'Liberation Sans', sans-serif;color:#2b5c90;white-space:nowrap;transform:scaleX(1.09);transform-origin:100% 50%;">Global DB Oracle Integrity</div>
<div style="left:316px;top:403.56px;font:normal 4.2px/5.04px 'Liberation Sans', sans-serif;color:#3b79b5;white-space:nowrap;transform:scaleX(1.07);transform-origin:0 50%;">21 min 18 sec</div>
<div style="left:85.2px;top:418.5px;width:88.8px;height:20.3px;background:#96d5ee"></div>
<div style="right:288px;top:426.16px;font:bold 4.2px/5.04px 'Liberation Sans', sans-serif;color:#2b5c90;white-space:nowrap;transform:scaleX(1.11);transform-origin:100% 50%;">DB-Oracle-Accounting</div>
<div style="right:189.5px;top:426.16px;font:normal 4.2px/5.04px 'Liberation Sans', sans-serif;color:#3b79b5;white-space:nowrap;transform:scaleX(1);transform-origin:100% 50%;">21 h 29 min</div>
<div style="left:259.3px;top:418.5px;width:21.3px;height:20.3px;background:#96d5ee"></div>
<div style="right:114px;top:426.16px;font:bold 4.2px/5.04px 'Liberation Sans', sans-serif;color:#2b5c90;white-space:nowrap;transform:scaleX(1.12);transform-origin:100% 50%;">DB-Oracle-CRM</div>
<div style="left:282.6px;top:426.16px;font:normal 4.2px/5.04px 'Liberation Sans', sans-serif;color:#3b79b5;white-space:nowrap;transform:scaleX(1.07);transform-origin:0 50%;">19 min 28 sec</div>
</div>
</body></html>
